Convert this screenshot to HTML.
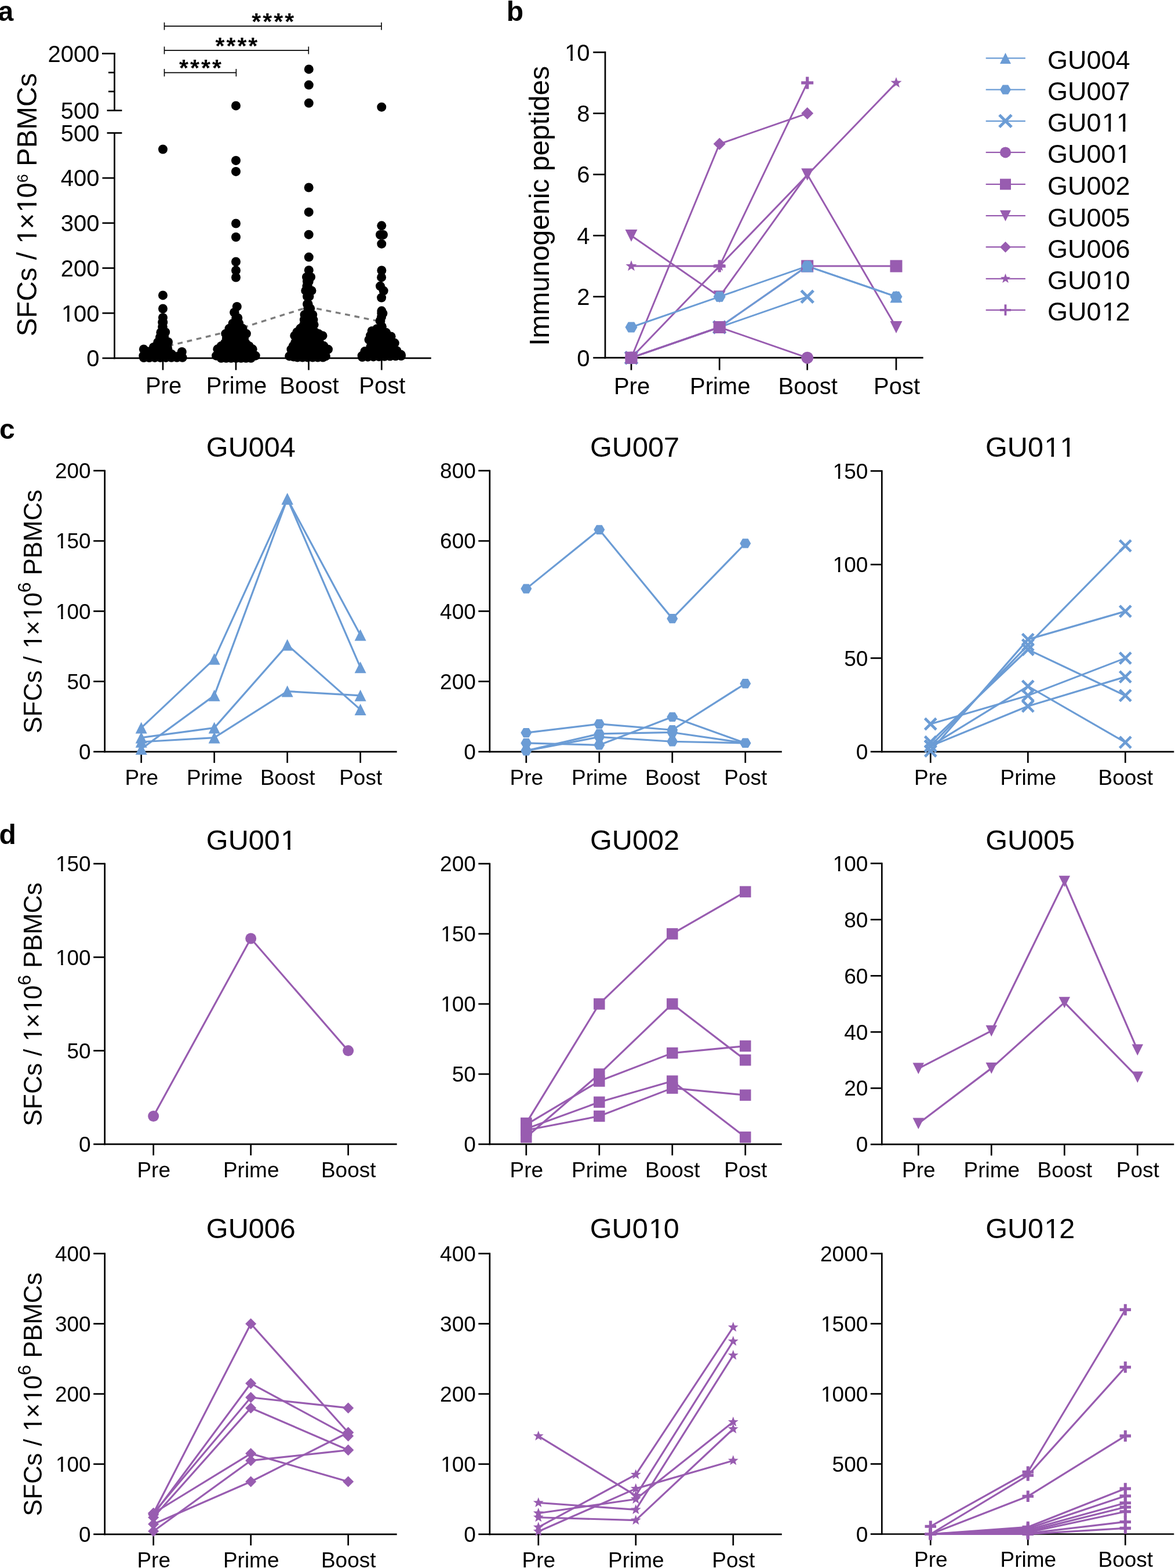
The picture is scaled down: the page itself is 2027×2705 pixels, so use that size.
<!DOCTYPE html>
<html><head><meta charset="utf-8"><title>Figure</title>
<style>
html,body{margin:0;padding:0;background:#fff;}
svg{display:block;}
text{font-family:'Liberation Sans', Arial, Helvetica, sans-serif;fill:#000;font-kerning:none;font-feature-settings:'kern' 0;}
</style></head>
<body>
<svg xmlns="http://www.w3.org/2000/svg" width="2027" height="2705" viewBox="0 0 2027 2705">
<rect width="2027" height="2705" fill="#fff"/>
<text x="-3.5" y="35.8" font-size="48" text-anchor="start" font-weight="bold" >a</text>
<line x1="197.5" y1="229.4" x2="197.5" y2="619.25" stroke="#000" stroke-width="2.7" />
<line x1="197.5" y1="91.05" x2="197.5" y2="190.6" stroke="#000" stroke-width="2.7" />
<line x1="176.5" y1="617.9" x2="197.5" y2="617.9" stroke="#000" stroke-width="2.7" />
<text x="171.5" y="632.2" font-size="40" text-anchor="end" font-weight="normal" >0</text>
<line x1="176.5" y1="540.2" x2="197.5" y2="540.2" stroke="#000" stroke-width="2.7" />
<text x="105.96 127.01 149.25" y="554.5" font-size="40" text-anchor="start" >100</text>
<rect x="107.96" y="550.5" width="7.96" height="5.4" fill="#fff"/><rect x="119.6" y="550.5" width="7.6" height="5.4" fill="#fff"/>
<line x1="176.5" y1="462.5" x2="197.5" y2="462.5" stroke="#000" stroke-width="2.7" />
<text x="171.5" y="476.8" font-size="40" text-anchor="end" font-weight="normal" >200</text>
<line x1="176.5" y1="384.8" x2="197.5" y2="384.8" stroke="#000" stroke-width="2.7" />
<text x="171.5" y="399.1" font-size="40" text-anchor="end" font-weight="normal" >300</text>
<line x1="176.5" y1="307.1" x2="197.5" y2="307.1" stroke="#000" stroke-width="2.7" />
<text x="171.5" y="321.4" font-size="40" text-anchor="end" font-weight="normal" >400</text>
<line x1="184.6" y1="229.4" x2="210.4" y2="229.4" stroke="#000" stroke-width="2.7" />
<text x="171.5" y="243.7" font-size="40" text-anchor="end" font-weight="normal" >500</text>
<line x1="184.6" y1="190.6" x2="210.4" y2="190.6" stroke="#000" stroke-width="2.7" />
<text x="171.5" y="204.9" font-size="40" text-anchor="end" font-weight="normal" >500</text>
<line x1="176" y1="92.4" x2="198.85" y2="92.4" stroke="#000" stroke-width="2.7" />
<text x="171.5" y="106.7" font-size="40" text-anchor="end" font-weight="normal" >2000</text>
<line x1="187" y1="157.87" x2="197.5" y2="157.87" stroke="#000" stroke-width="2.7" />
<line x1="187" y1="125.13" x2="197.5" y2="125.13" stroke="#000" stroke-width="2.7" />
<line x1="196.15" y1="617.9" x2="743.8" y2="617.9" stroke="#000" stroke-width="2.7" />
<line x1="281" y1="617.9" x2="281" y2="638.4" stroke="#000" stroke-width="2.7" />
<text x="282" y="679.4" font-size="40" text-anchor="middle" font-weight="normal" >Pre</text>
<line x1="407" y1="617.9" x2="407" y2="638.4" stroke="#000" stroke-width="2.7" />
<text x="408" y="679.4" font-size="40" text-anchor="middle" font-weight="normal" >Prime</text>
<line x1="532.5" y1="617.9" x2="532.5" y2="638.4" stroke="#000" stroke-width="2.7" />
<text x="533.5" y="679.4" font-size="40" text-anchor="middle" font-weight="normal" >Boost</text>
<line x1="658.3" y1="617.9" x2="658.3" y2="638.4" stroke="#000" stroke-width="2.7" />
<text x="659.3" y="679.4" font-size="40" text-anchor="middle" font-weight="normal" >Post</text>
<g transform="translate(63.3,353.2) rotate(-90)"><text x="-227.13 -195.44 -166.43 -132.13 -108.38 -95.18 -81.98 -67.36 -42.37 -13.2 11.79" y="0" font-size="47.5" text-anchor="start">SFCs / 1×10<tspan font-size="26.5" dy="-15">6</tspan><tspan dy="15"> PBMCs</tspan></text>
<rect x="-64.99" y="-4.75" width="9.45" height="6.41" fill="#fff"/><rect x="-51.16" y="-4.75" width="9.03" height="6.41" fill="#fff"/><rect x="-10.83" y="-4.75" width="9.45" height="6.41" fill="#fff"/><rect x="2.99" y="-4.75" width="9.03" height="6.41" fill="#fff"/></g>
<line x1="283.5" y1="45.2" x2="658" y2="45.2" stroke="#000" stroke-width="1.8" />
<line x1="283.5" y1="38.7" x2="283.5" y2="51.7" stroke="#000" stroke-width="1.6" />
<line x1="658" y1="38.7" x2="658" y2="51.7" stroke="#000" stroke-width="1.6" />
<text x="472.25" y="51" font-size="41" text-anchor="middle" font-weight="bold" letter-spacing="3">****</text>
<line x1="283.5" y1="86.9" x2="532.3" y2="86.9" stroke="#000" stroke-width="1.8" />
<line x1="283.5" y1="80.4" x2="283.5" y2="93.4" stroke="#000" stroke-width="1.6" />
<line x1="532.3" y1="80.4" x2="532.3" y2="93.4" stroke="#000" stroke-width="1.6" />
<text x="409.4" y="92.7" font-size="41" text-anchor="middle" font-weight="bold" letter-spacing="3">****</text>
<line x1="283.5" y1="125.4" x2="407.4" y2="125.4" stroke="#000" stroke-width="1.8" />
<line x1="283.5" y1="118.9" x2="283.5" y2="131.9" stroke="#000" stroke-width="1.6" />
<line x1="407.4" y1="118.9" x2="407.4" y2="131.9" stroke="#000" stroke-width="1.6" />
<text x="346.95" y="131.2" font-size="41" text-anchor="middle" font-weight="bold" letter-spacing="3">****</text>
<polyline points="281,599 407,568.8 532.5,529.5 658.3,555" fill="none" stroke="#7d7d7d" stroke-width="3.4" stroke-dasharray="8.8 7.8" stroke-dashoffset="7"/>
<g fill="#000"><circle cx="281" cy="257.5" r="8"/><circle cx="281" cy="509.4" r="8"/><circle cx="281" cy="532.5" r="8"/><circle cx="407" cy="182.4" r="8"/><circle cx="407" cy="276.9" r="8"/><circle cx="407" cy="295.9" r="8"/><circle cx="407" cy="385.5" r="8"/><circle cx="407" cy="409" r="8"/><circle cx="407" cy="451.5" r="8"/><circle cx="407" cy="466.5" r="8"/><circle cx="407" cy="478.5" r="8"/><circle cx="532.8" cy="119.4" r="8"/><circle cx="532.8" cy="146.6" r="8"/><circle cx="532.8" cy="177.8" r="8"/><circle cx="532.7" cy="323.5" r="8"/><circle cx="532.7" cy="365.9" r="8"/><circle cx="532.7" cy="404.7" r="8"/><circle cx="532.8" cy="443.6" r="8"/><circle cx="658.3" cy="184.7" r="8"/><circle cx="658.3" cy="389.3" r="8"/><circle cx="656" cy="405" r="8"/><circle cx="661" cy="405" r="8"/><circle cx="658.3" cy="420.7" r="8"/><circle cx="658.4" cy="466.5" r="8"/><circle cx="658.1" cy="478.4" r="8"/><circle cx="656" cy="493.6" r="8"/><circle cx="661.7" cy="501.6" r="8"/><circle cx="658.1" cy="513.5" r="8"/><circle cx="251.3" cy="608" r="8"/><circle cx="251.3" cy="612" r="8"/><circle cx="255.3" cy="612" r="8"/><circle cx="259.3" cy="612" r="8"/><circle cx="263.3" cy="612" r="8"/><circle cx="267.3" cy="604" r="8"/><circle cx="267.3" cy="608" r="8"/><circle cx="267.3" cy="612" r="8"/><circle cx="271.3" cy="596" r="8"/><circle cx="271.3" cy="600" r="8"/><circle cx="271.3" cy="604" r="8"/><circle cx="271.3" cy="608" r="8"/><circle cx="271.3" cy="612" r="8"/><circle cx="275.3" cy="592" r="8"/><circle cx="275.3" cy="596" r="8"/><circle cx="275.3" cy="600" r="8"/><circle cx="275.3" cy="604" r="8"/><circle cx="275.3" cy="608" r="8"/><circle cx="275.3" cy="612" r="8"/><circle cx="279.3" cy="580" r="8"/><circle cx="279.3" cy="584" r="8"/><circle cx="279.3" cy="588" r="8"/><circle cx="279.3" cy="592" r="8"/><circle cx="279.3" cy="596" r="8"/><circle cx="279.3" cy="600" r="8"/><circle cx="279.3" cy="604" r="8"/><circle cx="279.3" cy="608" r="8"/><circle cx="279.3" cy="612" r="8"/><circle cx="283.3" cy="588" r="8"/><circle cx="283.3" cy="592" r="8"/><circle cx="283.3" cy="596" r="8"/><circle cx="283.3" cy="600" r="8"/><circle cx="283.3" cy="604" r="8"/><circle cx="283.3" cy="608" r="8"/><circle cx="283.3" cy="612" r="8"/><circle cx="287.3" cy="608" r="8"/><circle cx="287.3" cy="612" r="8"/><circle cx="291.3" cy="612" r="8"/><circle cx="281" cy="548" r="8"/><circle cx="281.3" cy="556" r="8"/><circle cx="280.8" cy="564" r="8"/><circle cx="285.2" cy="573" r="8"/><circle cx="283.2" cy="581" r="8"/><circle cx="290" cy="590" r="8"/><circle cx="288.6" cy="598" r="8"/><circle cx="289.5" cy="603" r="8"/><circle cx="296" cy="611" r="8"/><circle cx="305.8" cy="615" r="8"/><circle cx="313.8" cy="607" r="8"/><circle cx="314.7" cy="616.8" r="8"/><circle cx="305.17" cy="616.83" r="8"/><circle cx="295.64" cy="616.86" r="8"/><circle cx="286.11" cy="616.89" r="8"/><circle cx="276.59" cy="616.91" r="8"/><circle cx="267.06" cy="616.94" r="8"/><circle cx="257.53" cy="616.97" r="8"/><circle cx="248" cy="617" r="8"/><circle cx="247.3" cy="614" r="8"/><circle cx="247.9" cy="602.4" r="8"/><circle cx="256" cy="606.5" r="8"/><circle cx="262" cy="606" r="8"/><circle cx="265" cy="599" r="8"/><circle cx="272.2" cy="590.5" r="8"/><circle cx="276" cy="582" r="8"/><circle cx="277.4" cy="573.5" r="8"/><circle cx="280.2" cy="564" r="8"/><circle cx="280.2" cy="556" r="8"/><circle cx="377.1" cy="608.9" r="8"/><circle cx="381.1" cy="600.9" r="8"/><circle cx="381.1" cy="604.9" r="8"/><circle cx="381.1" cy="608.9" r="8"/><circle cx="381.1" cy="612.9" r="8"/><circle cx="385.1" cy="600.9" r="8"/><circle cx="385.1" cy="604.9" r="8"/><circle cx="385.1" cy="608.9" r="8"/><circle cx="385.1" cy="612.9" r="8"/><circle cx="389.1" cy="596.9" r="8"/><circle cx="389.1" cy="600.9" r="8"/><circle cx="389.1" cy="604.9" r="8"/><circle cx="389.1" cy="608.9" r="8"/><circle cx="389.1" cy="612.9" r="8"/><circle cx="393.1" cy="576.9" r="8"/><circle cx="393.1" cy="580.9" r="8"/><circle cx="393.1" cy="584.9" r="8"/><circle cx="393.1" cy="588.9" r="8"/><circle cx="393.1" cy="592.9" r="8"/><circle cx="393.1" cy="596.9" r="8"/><circle cx="393.1" cy="600.9" r="8"/><circle cx="393.1" cy="604.9" r="8"/><circle cx="393.1" cy="608.9" r="8"/><circle cx="393.1" cy="612.9" r="8"/><circle cx="397.1" cy="568.9" r="8"/><circle cx="397.1" cy="572.9" r="8"/><circle cx="397.1" cy="576.9" r="8"/><circle cx="397.1" cy="580.9" r="8"/><circle cx="397.1" cy="584.9" r="8"/><circle cx="397.1" cy="588.9" r="8"/><circle cx="397.1" cy="592.9" r="8"/><circle cx="397.1" cy="596.9" r="8"/><circle cx="397.1" cy="600.9" r="8"/><circle cx="397.1" cy="604.9" r="8"/><circle cx="397.1" cy="608.9" r="8"/><circle cx="397.1" cy="612.9" r="8"/><circle cx="401.1" cy="564.9" r="8"/><circle cx="401.1" cy="568.9" r="8"/><circle cx="401.1" cy="572.9" r="8"/><circle cx="401.1" cy="576.9" r="8"/><circle cx="401.1" cy="580.9" r="8"/><circle cx="401.1" cy="584.9" r="8"/><circle cx="401.1" cy="588.9" r="8"/><circle cx="401.1" cy="592.9" r="8"/><circle cx="401.1" cy="596.9" r="8"/><circle cx="401.1" cy="600.9" r="8"/><circle cx="401.1" cy="604.9" r="8"/><circle cx="401.1" cy="608.9" r="8"/><circle cx="401.1" cy="612.9" r="8"/><circle cx="405.1" cy="560.9" r="8"/><circle cx="405.1" cy="564.9" r="8"/><circle cx="405.1" cy="568.9" r="8"/><circle cx="405.1" cy="572.9" r="8"/><circle cx="405.1" cy="576.9" r="8"/><circle cx="405.1" cy="580.9" r="8"/><circle cx="405.1" cy="584.9" r="8"/><circle cx="405.1" cy="588.9" r="8"/><circle cx="405.1" cy="592.9" r="8"/><circle cx="405.1" cy="596.9" r="8"/><circle cx="405.1" cy="600.9" r="8"/><circle cx="405.1" cy="604.9" r="8"/><circle cx="405.1" cy="608.9" r="8"/><circle cx="405.1" cy="612.9" r="8"/><circle cx="409.1" cy="556.9" r="8"/><circle cx="409.1" cy="560.9" r="8"/><circle cx="409.1" cy="564.9" r="8"/><circle cx="409.1" cy="568.9" r="8"/><circle cx="409.1" cy="572.9" r="8"/><circle cx="409.1" cy="576.9" r="8"/><circle cx="409.1" cy="580.9" r="8"/><circle cx="409.1" cy="584.9" r="8"/><circle cx="409.1" cy="588.9" r="8"/><circle cx="409.1" cy="592.9" r="8"/><circle cx="409.1" cy="596.9" r="8"/><circle cx="409.1" cy="600.9" r="8"/><circle cx="409.1" cy="604.9" r="8"/><circle cx="409.1" cy="608.9" r="8"/><circle cx="409.1" cy="612.9" r="8"/><circle cx="413.1" cy="564.9" r="8"/><circle cx="413.1" cy="568.9" r="8"/><circle cx="413.1" cy="572.9" r="8"/><circle cx="413.1" cy="576.9" r="8"/><circle cx="413.1" cy="580.9" r="8"/><circle cx="413.1" cy="584.9" r="8"/><circle cx="413.1" cy="588.9" r="8"/><circle cx="413.1" cy="592.9" r="8"/><circle cx="413.1" cy="596.9" r="8"/><circle cx="413.1" cy="600.9" r="8"/><circle cx="413.1" cy="604.9" r="8"/><circle cx="413.1" cy="608.9" r="8"/><circle cx="413.1" cy="612.9" r="8"/><circle cx="417.1" cy="572.9" r="8"/><circle cx="417.1" cy="576.9" r="8"/><circle cx="417.1" cy="580.9" r="8"/><circle cx="417.1" cy="584.9" r="8"/><circle cx="417.1" cy="588.9" r="8"/><circle cx="417.1" cy="592.9" r="8"/><circle cx="417.1" cy="596.9" r="8"/><circle cx="417.1" cy="600.9" r="8"/><circle cx="417.1" cy="604.9" r="8"/><circle cx="417.1" cy="608.9" r="8"/><circle cx="417.1" cy="612.9" r="8"/><circle cx="421.1" cy="576.9" r="8"/><circle cx="421.1" cy="592.9" r="8"/><circle cx="421.1" cy="596.9" r="8"/><circle cx="421.1" cy="600.9" r="8"/><circle cx="421.1" cy="604.9" r="8"/><circle cx="421.1" cy="608.9" r="8"/><circle cx="421.1" cy="612.9" r="8"/><circle cx="425.1" cy="596.9" r="8"/><circle cx="425.1" cy="600.9" r="8"/><circle cx="425.1" cy="604.9" r="8"/><circle cx="425.1" cy="608.9" r="8"/><circle cx="425.1" cy="612.9" r="8"/><circle cx="429.1" cy="600.9" r="8"/><circle cx="429.1" cy="604.9" r="8"/><circle cx="429.1" cy="608.9" r="8"/><circle cx="429.1" cy="612.9" r="8"/><circle cx="433.1" cy="604.9" r="8"/><circle cx="433.1" cy="608.9" r="8"/><circle cx="433.1" cy="612.9" r="8"/><circle cx="408.8" cy="528.9" r="8"/><circle cx="404.6" cy="539" r="8"/><circle cx="410.3" cy="548.5" r="8"/><circle cx="412.2" cy="558" r="8"/><circle cx="418.55" cy="566.85" r="8"/><circle cx="424.9" cy="575.7" r="8"/><circle cx="421.1" cy="583.3" r="8"/><circle cx="423.6" cy="591.6" r="8"/><circle cx="429.65" cy="596.95" r="8"/><circle cx="435.7" cy="602.3" r="8"/><circle cx="440.7" cy="613.7" r="8"/><circle cx="432.9" cy="617.8" r="8"/><circle cx="424.35" cy="617.8" r="8"/><circle cx="415.8" cy="617.8" r="8"/><circle cx="407.25" cy="617.8" r="8"/><circle cx="398.7" cy="617.8" r="8"/><circle cx="390.15" cy="617.8" r="8"/><circle cx="381.6" cy="617.8" r="8"/><circle cx="373.1" cy="613.7" r="8"/><circle cx="375.3" cy="602.3" r="8"/><circle cx="381.65" cy="596.95" r="8"/><circle cx="388" cy="591.6" r="8"/><circle cx="390.9" cy="583.3" r="8"/><circle cx="389.3" cy="575.7" r="8"/><circle cx="395.45" cy="566.85" r="8"/><circle cx="401.6" cy="558" r="8"/><circle cx="407.3" cy="548.5" r="8"/><circle cx="404.2" cy="539" r="8"/><circle cx="503.2" cy="610.2" r="8"/><circle cx="507.2" cy="602.2" r="8"/><circle cx="507.2" cy="606.2" r="8"/><circle cx="507.2" cy="610.2" r="8"/><circle cx="511.2" cy="582.2" r="8"/><circle cx="511.2" cy="594.2" r="8"/><circle cx="511.2" cy="598.2" r="8"/><circle cx="511.2" cy="602.2" r="8"/><circle cx="511.2" cy="606.2" r="8"/><circle cx="511.2" cy="610.2" r="8"/><circle cx="515.2" cy="574.2" r="8"/><circle cx="515.2" cy="578.2" r="8"/><circle cx="515.2" cy="582.2" r="8"/><circle cx="515.2" cy="586.2" r="8"/><circle cx="515.2" cy="590.2" r="8"/><circle cx="515.2" cy="594.2" r="8"/><circle cx="515.2" cy="598.2" r="8"/><circle cx="515.2" cy="602.2" r="8"/><circle cx="515.2" cy="606.2" r="8"/><circle cx="515.2" cy="610.2" r="8"/><circle cx="519.2" cy="570.2" r="8"/><circle cx="519.2" cy="574.2" r="8"/><circle cx="519.2" cy="578.2" r="8"/><circle cx="519.2" cy="582.2" r="8"/><circle cx="519.2" cy="586.2" r="8"/><circle cx="519.2" cy="590.2" r="8"/><circle cx="519.2" cy="594.2" r="8"/><circle cx="519.2" cy="598.2" r="8"/><circle cx="519.2" cy="602.2" r="8"/><circle cx="519.2" cy="606.2" r="8"/><circle cx="519.2" cy="610.2" r="8"/><circle cx="523.2" cy="566.2" r="8"/><circle cx="523.2" cy="570.2" r="8"/><circle cx="523.2" cy="574.2" r="8"/><circle cx="523.2" cy="578.2" r="8"/><circle cx="523.2" cy="582.2" r="8"/><circle cx="523.2" cy="586.2" r="8"/><circle cx="523.2" cy="590.2" r="8"/><circle cx="523.2" cy="594.2" r="8"/><circle cx="523.2" cy="598.2" r="8"/><circle cx="523.2" cy="602.2" r="8"/><circle cx="523.2" cy="606.2" r="8"/><circle cx="523.2" cy="610.2" r="8"/><circle cx="527.2" cy="554.2" r="8"/><circle cx="527.2" cy="558.2" r="8"/><circle cx="527.2" cy="562.2" r="8"/><circle cx="527.2" cy="566.2" r="8"/><circle cx="527.2" cy="570.2" r="8"/><circle cx="527.2" cy="574.2" r="8"/><circle cx="527.2" cy="578.2" r="8"/><circle cx="527.2" cy="582.2" r="8"/><circle cx="527.2" cy="586.2" r="8"/><circle cx="527.2" cy="590.2" r="8"/><circle cx="527.2" cy="594.2" r="8"/><circle cx="527.2" cy="598.2" r="8"/><circle cx="527.2" cy="602.2" r="8"/><circle cx="527.2" cy="606.2" r="8"/><circle cx="527.2" cy="610.2" r="8"/><circle cx="531.2" cy="502.2" r="8"/><circle cx="531.2" cy="506.2" r="8"/><circle cx="531.2" cy="538.2" r="8"/><circle cx="531.2" cy="542.2" r="8"/><circle cx="531.2" cy="546.2" r="8"/><circle cx="531.2" cy="550.2" r="8"/><circle cx="531.2" cy="554.2" r="8"/><circle cx="531.2" cy="558.2" r="8"/><circle cx="531.2" cy="562.2" r="8"/><circle cx="531.2" cy="566.2" r="8"/><circle cx="531.2" cy="570.2" r="8"/><circle cx="531.2" cy="574.2" r="8"/><circle cx="531.2" cy="578.2" r="8"/><circle cx="531.2" cy="582.2" r="8"/><circle cx="531.2" cy="586.2" r="8"/><circle cx="531.2" cy="590.2" r="8"/><circle cx="531.2" cy="594.2" r="8"/><circle cx="531.2" cy="598.2" r="8"/><circle cx="531.2" cy="602.2" r="8"/><circle cx="531.2" cy="606.2" r="8"/><circle cx="531.2" cy="610.2" r="8"/><circle cx="535.2" cy="542.2" r="8"/><circle cx="535.2" cy="546.2" r="8"/><circle cx="535.2" cy="550.2" r="8"/><circle cx="535.2" cy="554.2" r="8"/><circle cx="535.2" cy="558.2" r="8"/><circle cx="535.2" cy="562.2" r="8"/><circle cx="535.2" cy="566.2" r="8"/><circle cx="535.2" cy="570.2" r="8"/><circle cx="535.2" cy="574.2" r="8"/><circle cx="535.2" cy="578.2" r="8"/><circle cx="535.2" cy="582.2" r="8"/><circle cx="535.2" cy="586.2" r="8"/><circle cx="535.2" cy="590.2" r="8"/><circle cx="535.2" cy="594.2" r="8"/><circle cx="535.2" cy="598.2" r="8"/><circle cx="535.2" cy="602.2" r="8"/><circle cx="535.2" cy="606.2" r="8"/><circle cx="535.2" cy="610.2" r="8"/><circle cx="539.2" cy="562.2" r="8"/><circle cx="539.2" cy="566.2" r="8"/><circle cx="539.2" cy="570.2" r="8"/><circle cx="539.2" cy="574.2" r="8"/><circle cx="539.2" cy="578.2" r="8"/><circle cx="539.2" cy="582.2" r="8"/><circle cx="539.2" cy="586.2" r="8"/><circle cx="539.2" cy="590.2" r="8"/><circle cx="539.2" cy="594.2" r="8"/><circle cx="539.2" cy="598.2" r="8"/><circle cx="539.2" cy="602.2" r="8"/><circle cx="539.2" cy="606.2" r="8"/><circle cx="539.2" cy="610.2" r="8"/><circle cx="543.2" cy="578.2" r="8"/><circle cx="543.2" cy="582.2" r="8"/><circle cx="543.2" cy="586.2" r="8"/><circle cx="543.2" cy="590.2" r="8"/><circle cx="543.2" cy="594.2" r="8"/><circle cx="543.2" cy="598.2" r="8"/><circle cx="543.2" cy="602.2" r="8"/><circle cx="543.2" cy="606.2" r="8"/><circle cx="543.2" cy="610.2" r="8"/><circle cx="547.2" cy="578.2" r="8"/><circle cx="547.2" cy="582.2" r="8"/><circle cx="547.2" cy="586.2" r="8"/><circle cx="547.2" cy="590.2" r="8"/><circle cx="547.2" cy="594.2" r="8"/><circle cx="547.2" cy="598.2" r="8"/><circle cx="547.2" cy="602.2" r="8"/><circle cx="547.2" cy="606.2" r="8"/><circle cx="547.2" cy="610.2" r="8"/><circle cx="551.2" cy="582.2" r="8"/><circle cx="551.2" cy="598.2" r="8"/><circle cx="551.2" cy="602.2" r="8"/><circle cx="551.2" cy="606.2" r="8"/><circle cx="551.2" cy="610.2" r="8"/><circle cx="555.2" cy="598.2" r="8"/><circle cx="555.2" cy="602.2" r="8"/><circle cx="555.2" cy="606.2" r="8"/><circle cx="555.2" cy="610.2" r="8"/><circle cx="559.2" cy="602.2" r="8"/><circle cx="559.2" cy="606.2" r="8"/><circle cx="559.2" cy="610.2" r="8"/><circle cx="532.8" cy="466.2" r="8"/><circle cx="536.1" cy="477.9" r="8"/><circle cx="532.75" cy="485.6" r="8"/><circle cx="529.4" cy="493.3" r="8"/><circle cx="537.5" cy="501.4" r="8"/><circle cx="533.4" cy="511.4" r="8"/><circle cx="531.6" cy="524.5" r="8"/><circle cx="535.2" cy="532.2" r="8"/><circle cx="539.3" cy="543" r="8"/><circle cx="540.45" cy="551.6" r="8"/><circle cx="541.6" cy="560.2" r="8"/><circle cx="543.4" cy="572.9" r="8"/><circle cx="549.95" cy="576.05" r="8"/><circle cx="556.5" cy="579.2" r="8"/><circle cx="551.1" cy="591" r="8"/><circle cx="558.55" cy="596.85" r="8"/><circle cx="566" cy="602.7" r="8"/><circle cx="561.9" cy="614.4" r="8"/><circle cx="557" cy="616.5" r="8"/><circle cx="548.2" cy="616.5" r="8"/><circle cx="539.4" cy="616.5" r="8"/><circle cx="530.6" cy="616.5" r="8"/><circle cx="521.8" cy="616.5" r="8"/><circle cx="513" cy="616.5" r="8"/><circle cx="506.1" cy="615.45" r="8"/><circle cx="499.2" cy="614.4" r="8"/><circle cx="502.4" cy="602.7" r="8"/><circle cx="505.8" cy="596.85" r="8"/><circle cx="509.2" cy="591" r="8"/><circle cx="508.3" cy="579.2" r="8"/><circle cx="512.4" cy="572.9" r="8"/><circle cx="518.25" cy="566.55" r="8"/><circle cx="524.1" cy="560.2" r="8"/><circle cx="524.8" cy="551.6" r="8"/><circle cx="525.5" cy="543" r="8"/><circle cx="531.3" cy="532.2" r="8"/><circle cx="530" cy="524.5" r="8"/><circle cx="530" cy="511.4" r="8"/><circle cx="527.3" cy="501.4" r="8"/><circle cx="530.9" cy="493.3" r="8"/><circle cx="529.95" cy="485.6" r="8"/><circle cx="529" cy="477.9" r="8"/><circle cx="628.6" cy="612.3" r="8"/><circle cx="632.6" cy="608.3" r="8"/><circle cx="632.6" cy="612.3" r="8"/><circle cx="636.6" cy="604.3" r="8"/><circle cx="636.6" cy="608.3" r="8"/><circle cx="636.6" cy="612.3" r="8"/><circle cx="640.6" cy="584.3" r="8"/><circle cx="640.6" cy="588.3" r="8"/><circle cx="640.6" cy="592.3" r="8"/><circle cx="640.6" cy="604.3" r="8"/><circle cx="640.6" cy="608.3" r="8"/><circle cx="640.6" cy="612.3" r="8"/><circle cx="644.6" cy="576.3" r="8"/><circle cx="644.6" cy="580.3" r="8"/><circle cx="644.6" cy="584.3" r="8"/><circle cx="644.6" cy="588.3" r="8"/><circle cx="644.6" cy="592.3" r="8"/><circle cx="644.6" cy="596.3" r="8"/><circle cx="644.6" cy="600.3" r="8"/><circle cx="644.6" cy="604.3" r="8"/><circle cx="644.6" cy="608.3" r="8"/><circle cx="644.6" cy="612.3" r="8"/><circle cx="648.6" cy="572.3" r="8"/><circle cx="648.6" cy="576.3" r="8"/><circle cx="648.6" cy="580.3" r="8"/><circle cx="648.6" cy="584.3" r="8"/><circle cx="648.6" cy="588.3" r="8"/><circle cx="648.6" cy="592.3" r="8"/><circle cx="648.6" cy="596.3" r="8"/><circle cx="648.6" cy="600.3" r="8"/><circle cx="648.6" cy="604.3" r="8"/><circle cx="648.6" cy="608.3" r="8"/><circle cx="648.6" cy="612.3" r="8"/><circle cx="652.6" cy="572.3" r="8"/><circle cx="652.6" cy="576.3" r="8"/><circle cx="652.6" cy="580.3" r="8"/><circle cx="652.6" cy="584.3" r="8"/><circle cx="652.6" cy="588.3" r="8"/><circle cx="652.6" cy="592.3" r="8"/><circle cx="652.6" cy="596.3" r="8"/><circle cx="652.6" cy="600.3" r="8"/><circle cx="652.6" cy="604.3" r="8"/><circle cx="652.6" cy="608.3" r="8"/><circle cx="652.6" cy="612.3" r="8"/><circle cx="656.6" cy="568.3" r="8"/><circle cx="656.6" cy="572.3" r="8"/><circle cx="656.6" cy="576.3" r="8"/><circle cx="656.6" cy="580.3" r="8"/><circle cx="656.6" cy="584.3" r="8"/><circle cx="656.6" cy="588.3" r="8"/><circle cx="656.6" cy="592.3" r="8"/><circle cx="656.6" cy="596.3" r="8"/><circle cx="656.6" cy="600.3" r="8"/><circle cx="656.6" cy="604.3" r="8"/><circle cx="656.6" cy="608.3" r="8"/><circle cx="656.6" cy="612.3" r="8"/><circle cx="660.6" cy="576.3" r="8"/><circle cx="660.6" cy="580.3" r="8"/><circle cx="660.6" cy="584.3" r="8"/><circle cx="660.6" cy="588.3" r="8"/><circle cx="660.6" cy="592.3" r="8"/><circle cx="660.6" cy="596.3" r="8"/><circle cx="660.6" cy="600.3" r="8"/><circle cx="660.6" cy="604.3" r="8"/><circle cx="660.6" cy="608.3" r="8"/><circle cx="660.6" cy="612.3" r="8"/><circle cx="664.6" cy="576.3" r="8"/><circle cx="664.6" cy="580.3" r="8"/><circle cx="664.6" cy="584.3" r="8"/><circle cx="664.6" cy="588.3" r="8"/><circle cx="664.6" cy="592.3" r="8"/><circle cx="664.6" cy="596.3" r="8"/><circle cx="664.6" cy="600.3" r="8"/><circle cx="664.6" cy="604.3" r="8"/><circle cx="664.6" cy="608.3" r="8"/><circle cx="664.6" cy="612.3" r="8"/><circle cx="668.6" cy="580.3" r="8"/><circle cx="668.6" cy="584.3" r="8"/><circle cx="668.6" cy="588.3" r="8"/><circle cx="668.6" cy="592.3" r="8"/><circle cx="668.6" cy="596.3" r="8"/><circle cx="668.6" cy="600.3" r="8"/><circle cx="668.6" cy="604.3" r="8"/><circle cx="668.6" cy="608.3" r="8"/><circle cx="672.6" cy="584.3" r="8"/><circle cx="672.6" cy="588.3" r="8"/><circle cx="672.6" cy="592.3" r="8"/><circle cx="672.6" cy="596.3" r="8"/><circle cx="672.6" cy="600.3" r="8"/><circle cx="672.6" cy="604.3" r="8"/><circle cx="672.6" cy="608.3" r="8"/><circle cx="676.6" cy="592.3" r="8"/><circle cx="676.6" cy="604.3" r="8"/><circle cx="676.6" cy="608.3" r="8"/><circle cx="680.6" cy="608.3" r="8"/><circle cx="658.4" cy="536.3" r="8"/><circle cx="660.4" cy="540.6" r="8"/><circle cx="658" cy="547" r="8"/><circle cx="655.6" cy="553.4" r="8"/><circle cx="658.5" cy="563.4" r="8"/><circle cx="660.4" cy="571" r="8"/><circle cx="666.1" cy="573.8" r="8"/><circle cx="674.6" cy="580.4" r="8"/><circle cx="680.8" cy="591.8" r="8"/><circle cx="677.4" cy="598.5" r="8"/><circle cx="684.55" cy="605.15" r="8"/><circle cx="691.7" cy="611.8" r="8"/><circle cx="692" cy="614" r="8"/><circle cx="682.43" cy="614.29" r="8"/><circle cx="672.86" cy="614.57" r="8"/><circle cx="663.29" cy="614.86" r="8"/><circle cx="653.71" cy="615.14" r="8"/><circle cx="644.14" cy="615.43" r="8"/><circle cx="634.57" cy="615.71" r="8"/><circle cx="625" cy="616" r="8"/><circle cx="624.6" cy="613.7" r="8"/><circle cx="629.4" cy="606.1" r="8"/><circle cx="639.3" cy="598.5" r="8"/><circle cx="636.5" cy="586.1" r="8"/><circle cx="639.1" cy="578.55" r="8"/><circle cx="641.7" cy="571" r="8"/><circle cx="650.25" cy="567.2" r="8"/><circle cx="658.8" cy="563.4" r="8"/><circle cx="656.4" cy="553.4" r="8"/><circle cx="658.3" cy="540.6" r="8"/></g>
<text x="873.7" y="35.7" font-size="48" text-anchor="start" font-weight="bold" >b</text>
<line x1="1044" y1="88.85" x2="1044" y2="618.55" stroke="#000" stroke-width="2.7" />
<line x1="1023.2" y1="617.2" x2="1044" y2="617.2" stroke="#000" stroke-width="2.7" />
<text x="1017.5" y="631.5" font-size="40" text-anchor="end" font-weight="normal" >0</text>
<line x1="1023.2" y1="511.8" x2="1044" y2="511.8" stroke="#000" stroke-width="2.7" />
<text x="1017.5" y="526.1" font-size="40" text-anchor="end" font-weight="normal" >2</text>
<line x1="1023.2" y1="406.4" x2="1044" y2="406.4" stroke="#000" stroke-width="2.7" />
<text x="1017.5" y="420.7" font-size="40" text-anchor="end" font-weight="normal" >4</text>
<line x1="1023.2" y1="301" x2="1044" y2="301" stroke="#000" stroke-width="2.7" />
<text x="1017.5" y="315.3" font-size="40" text-anchor="end" font-weight="normal" >6</text>
<line x1="1023.2" y1="195.6" x2="1044" y2="195.6" stroke="#000" stroke-width="2.7" />
<text x="1017.5" y="209.9" font-size="40" text-anchor="end" font-weight="normal" >8</text>
<line x1="1023.2" y1="90.2" x2="1044" y2="90.2" stroke="#000" stroke-width="2.7" />
<text x="974.21 995.25" y="104.5" font-size="40" text-anchor="start" >10</text>
<rect x="976.21" y="100.5" width="7.96" height="5.4" fill="#fff"/><rect x="987.85" y="100.5" width="7.6" height="5.4" fill="#fff"/>
<line x1="1042.65" y1="617.2" x2="1592.7" y2="617.2" stroke="#000" stroke-width="2.7" />
<line x1="1089" y1="617.2" x2="1089" y2="638.5" stroke="#000" stroke-width="2.7" />
<text x="1090" y="679.7" font-size="40" text-anchor="middle" font-weight="normal" >Pre</text>
<line x1="1241.2" y1="617.2" x2="1241.2" y2="638.5" stroke="#000" stroke-width="2.7" />
<text x="1242.2" y="679.7" font-size="40" text-anchor="middle" font-weight="normal" >Prime</text>
<line x1="1392.7" y1="617.2" x2="1392.7" y2="638.5" stroke="#000" stroke-width="2.7" />
<text x="1393.7" y="679.7" font-size="40" text-anchor="middle" font-weight="normal" >Boost</text>
<line x1="1546" y1="617.2" x2="1546" y2="638.5" stroke="#000" stroke-width="2.7" />
<text x="1547" y="679.7" font-size="40" text-anchor="middle" font-weight="normal" >Post</text>
<text transform="translate(947.4,355.3) rotate(-90)" font-size="48" text-anchor="middle">Immunogenic peptides</text>
<polyline points="1089,617.2 1241.2,564.5 1392.7,511.8" fill="none" stroke="#6b9cd5" stroke-width="3" stroke-linejoin="round"/>
<polyline points="1089,617.2 1241.2,564.5" fill="none" stroke="#6b9cd5" stroke-width="3" stroke-linejoin="round"/>
<polyline points="1089,617.2 1241.2,564.5 1392.7,617.2" fill="none" stroke="#985cb0" stroke-width="3" stroke-linejoin="round"/>
<polyline points="1089,617.2 1241.2,564.5 1392.7,459.1 1546,459.1" fill="none" stroke="#985cb0" stroke-width="3" stroke-linejoin="round"/>
<polyline points="1089,406.4 1241.2,511.8 1392.7,301 1546,564.5" fill="none" stroke="#985cb0" stroke-width="3" stroke-linejoin="round"/>
<polyline points="1089,617.2 1241.2,248.3 1392.7,195.6" fill="none" stroke="#985cb0" stroke-width="3" stroke-linejoin="round"/>
<polyline points="1089,459.1 1241.2,459.1 1546,142.9" fill="none" stroke="#985cb0" stroke-width="3" stroke-linejoin="round"/>
<polyline points="1089,617.2 1241.2,459.1 1392.7,142.9" fill="none" stroke="#985cb0" stroke-width="3" stroke-linejoin="round"/>
<polyline points="1241.2,564.5 1392.7,459.1 1546,511.8" fill="none" stroke="#6b9cd5" stroke-width="3" stroke-linejoin="round"/>
<polyline points="1089,564.5 1241.2,511.8 1392.7,459.1 1546,511.8" fill="none" stroke="#6b9cd5" stroke-width="3" stroke-linejoin="round"/>
<path d="M1078.5,606.7L1099.5,627.7M1099.5,606.7L1078.5,627.7" stroke="#6b9cd5" stroke-width="5.04"/>
<path d="M1230.7,554L1251.7,575M1251.7,554L1230.7,575" stroke="#6b9cd5" stroke-width="5.04"/>
<path d="M1382.2,501.3L1403.2,522.3M1403.2,501.3L1382.2,522.3" stroke="#6b9cd5" stroke-width="5.04"/>
<circle cx="1089" cy="617.2" r="10.5" fill="#985cb0"/>
<circle cx="1241.2" cy="564.5" r="10.5" fill="#985cb0"/>
<circle cx="1392.7" cy="617.2" r="10.5" fill="#985cb0"/>
<polygon points="1078.5,395.9 1099.5,395.9 1089,416.9" fill="#985cb0"/>
<polygon points="1230.7,501.3 1251.7,501.3 1241.2,522.3" fill="#985cb0"/>
<polygon points="1382.2,290.5 1403.2,290.5 1392.7,311.5" fill="#985cb0"/>
<polygon points="1535.5,554 1556.5,554 1546,575" fill="#985cb0"/>
<polygon points="1089,606.7 1099.5,617.2 1089,627.7 1078.5,617.2" fill="#985cb0"/>
<polygon points="1241.2,237.8 1251.7,248.3 1241.2,258.8 1230.7,248.3" fill="#985cb0"/>
<polygon points="1392.7,185.1 1403.2,195.6 1392.7,206.1 1382.2,195.6" fill="#985cb0"/>
<polygon points="1089,449.1 1091.47,455.7 1098.51,456.01 1092.99,460.4 1094.88,467.19 1089,463.3 1083.12,467.19 1085.01,460.4 1079.49,456.01 1086.53,455.7" fill="#985cb0"/>
<polygon points="1241.2,449.1 1243.67,455.7 1250.71,456.01 1245.19,460.4 1247.08,467.19 1241.2,463.3 1235.32,467.19 1237.21,460.4 1231.69,456.01 1238.73,455.7" fill="#985cb0"/>
<polygon points="1546,132.9 1548.47,139.5 1555.51,139.81 1549.99,144.2 1551.88,150.99 1546,147.1 1540.12,150.99 1542.01,144.2 1536.49,139.81 1543.53,139.5" fill="#985cb0"/>
<path d="M1078.5,617.2L1099.5,617.2M1089,606.7L1089,627.7" stroke="#985cb0" stroke-width="5.25"/>
<path d="M1230.7,459.1L1251.7,459.1M1241.2,448.6L1241.2,469.6" stroke="#985cb0" stroke-width="5.25"/>
<path d="M1382.2,142.9L1403.2,142.9M1392.7,132.4L1392.7,153.4" stroke="#985cb0" stroke-width="5.25"/>
<polygon points="1089,606.7 1099.5,627.7 1078.5,627.7" fill="#6b9cd5"/>
<polygon points="1241.2,554 1251.7,575 1230.7,575" fill="#6b9cd5"/>
<rect x="1078.5" y="606.7" width="21" height="21" fill="#985cb0"/>
<rect x="1230.7" y="554" width="21" height="21" fill="#985cb0"/>
<rect x="1382.2" y="448.6" width="21" height="21" fill="#985cb0"/>
<rect x="1535.5" y="448.6" width="21" height="21" fill="#985cb0"/>
<polygon points="1078.5,564.5 1083.75,555.47 1094.25,555.47 1099.5,564.5 1094.25,573.53 1083.75,573.53" fill="#6b9cd5"/>
<polygon points="1230.7,511.8 1235.95,502.77 1246.45,502.77 1251.7,511.8 1246.45,520.83 1235.95,520.83" fill="#6b9cd5"/>
<polygon points="1382.2,459.1 1387.45,450.07 1397.95,450.07 1403.2,459.1 1397.95,468.13 1387.45,468.13" fill="#6b9cd5"/>
<polygon points="1535.5,511.8 1540.75,502.77 1551.25,502.77 1556.5,511.8 1551.25,520.83 1540.75,520.83" fill="#6b9cd5"/>
<polygon points="1392.7,448.6 1403.2,469.6 1382.2,469.6" fill="#6b9cd5"/>
<polygon points="1546,501.3 1556.5,522.3 1535.5,522.3" fill="#6b9cd5"/>
<line x1="1700.7" y1="100.4" x2="1768.9" y2="100.4" stroke="#6b9cd5" stroke-width="2.2" />
<polygon points="1734.5,90.9 1744,109.9 1725,109.9" fill="#6b9cd5"/>
<text x="1807" y="118.7" font-size="45" text-anchor="start" font-weight="normal" >GU004</text>
<line x1="1700.7" y1="154.7" x2="1768.9" y2="154.7" stroke="#6b9cd5" stroke-width="2.2" />
<polygon points="1725,154.7 1729.75,146.53 1739.25,146.53 1744,154.7 1739.25,162.87 1729.75,162.87" fill="#6b9cd5"/>
<text x="1807" y="173" font-size="45" text-anchor="start" font-weight="normal" >GU007</text>
<line x1="1700.7" y1="208.8" x2="1768.9" y2="208.8" stroke="#6b9cd5" stroke-width="2.2" />
<path d="M1724,198.3L1745,219.3M1745,198.3L1724,219.3" stroke="#6b9cd5" stroke-width="5.04"/>
<text x="1807 1842 1874.5 1900.88 1925.9" y="227.1" font-size="45" text-anchor="start" >GU011</text>
<rect x="1903.13" y="222.6" width="8.96" height="6.08" fill="#fff"/><rect x="1916.22" y="222.6" width="8.55" height="6.08" fill="#fff"/><rect x="1928.15" y="222.6" width="8.96" height="6.08" fill="#fff"/><rect x="1941.25" y="222.6" width="8.55" height="6.08" fill="#fff"/>
<line x1="1700.7" y1="262.9" x2="1768.9" y2="262.9" stroke="#985cb0" stroke-width="2.2" />
<circle cx="1734.5" cy="262.9" r="9.5" fill="#985cb0"/>
<text x="1807 1842 1874.5 1899.53 1925.9" y="281.2" font-size="45" text-anchor="start" >GU001</text>
<rect x="1928.15" y="276.7" width="8.96" height="6.08" fill="#fff"/><rect x="1941.25" y="276.7" width="8.55" height="6.08" fill="#fff"/>
<line x1="1700.7" y1="317.9" x2="1768.9" y2="317.9" stroke="#985cb0" stroke-width="2.2" />
<rect x="1725" y="308.4" width="19" height="19" fill="#985cb0"/>
<text x="1807" y="336.2" font-size="45" text-anchor="start" font-weight="normal" >GU002</text>
<line x1="1700.7" y1="372.2" x2="1768.9" y2="372.2" stroke="#985cb0" stroke-width="2.2" />
<polygon points="1725,362.7 1744,362.7 1734.5,381.7" fill="#985cb0"/>
<text x="1807" y="390.5" font-size="45" text-anchor="start" font-weight="normal" >GU005</text>
<line x1="1700.7" y1="426.2" x2="1768.9" y2="426.2" stroke="#985cb0" stroke-width="2.2" />
<polygon points="1734.5,416.7 1744,426.2 1734.5,435.7 1725,426.2" fill="#985cb0"/>
<text x="1807" y="444.5" font-size="45" text-anchor="start" font-weight="normal" >GU006</text>
<line x1="1700.7" y1="480.8" x2="1768.9" y2="480.8" stroke="#985cb0" stroke-width="2.2" />
<polygon points="1734.5,471.8 1736.72,477.74 1743.06,478.02 1738.09,481.97 1739.79,488.08 1734.5,484.58 1729.21,488.08 1730.91,481.97 1725.94,478.02 1732.28,477.74" fill="#985cb0"/>
<text x="1807 1842 1874.5 1900.88 1924.55" y="499.1" font-size="45" text-anchor="start" >GU010</text>
<rect x="1903.13" y="494.6" width="8.96" height="6.08" fill="#fff"/><rect x="1916.22" y="494.6" width="8.55" height="6.08" fill="#fff"/>
<line x1="1700.7" y1="534.8" x2="1768.9" y2="534.8" stroke="#985cb0" stroke-width="2.2" />
<path d="M1725,534.8L1744,534.8M1734.5,525.3L1734.5,544.3" stroke="#985cb0" stroke-width="3.8"/>
<text x="1807 1842 1874.5 1900.88 1924.55" y="553.1" font-size="45" text-anchor="start" >GU012</text>
<rect x="1903.13" y="548.6" width="8.96" height="6.08" fill="#fff"/><rect x="1916.22" y="548.6" width="8.55" height="6.08" fill="#fff"/>
<text x="-1" y="756.8" font-size="48" text-anchor="start" font-weight="bold" >c</text>
<text x="-1.5" y="1455.6" font-size="48" text-anchor="start" font-weight="bold" >d</text>
<line x1="180.7" y1="810.65" x2="180.7" y2="1298.15" stroke="#000" stroke-width="2.7" />
<line x1="161.2" y1="1296.8" x2="180.7" y2="1296.8" stroke="#000" stroke-width="2.7" />
<text x="156.7" y="1310" font-size="37" text-anchor="end" font-weight="normal" >0</text>
<line x1="161.2" y1="1175.6" x2="180.7" y2="1175.6" stroke="#000" stroke-width="2.7" />
<text x="156.7" y="1188.8" font-size="37" text-anchor="end" font-weight="normal" >50</text>
<line x1="161.2" y1="1054.4" x2="180.7" y2="1054.4" stroke="#000" stroke-width="2.7" />
<text x="96.08 115.54 136.12" y="1067.6" font-size="37" text-anchor="start" >100</text>
<rect x="97.93" y="1063.9" width="7.36" height="5" fill="#fff"/><rect x="108.69" y="1063.9" width="7.03" height="5" fill="#fff"/>
<line x1="161.2" y1="933.2" x2="180.7" y2="933.2" stroke="#000" stroke-width="2.7" />
<text x="96.08 115.54 136.12" y="946.4" font-size="37" text-anchor="start" >150</text>
<rect x="97.93" y="942.7" width="7.36" height="5" fill="#fff"/><rect x="108.69" y="942.7" width="7.03" height="5" fill="#fff"/>
<line x1="161.2" y1="812" x2="180.7" y2="812" stroke="#000" stroke-width="2.7" />
<text x="156.7" y="825.2" font-size="37" text-anchor="end" font-weight="normal" >200</text>
<line x1="179.35" y1="1296.8" x2="684.7" y2="1296.8" stroke="#000" stroke-width="2.7" />
<line x1="243.7" y1="1296.8" x2="243.7" y2="1316.1" stroke="#000" stroke-width="2.7" />
<text x="244.2" y="1353.6" font-size="37" text-anchor="middle" font-weight="normal" >Pre</text>
<line x1="369.7" y1="1296.8" x2="369.7" y2="1316.1" stroke="#000" stroke-width="2.7" />
<text x="370.2" y="1353.6" font-size="37" text-anchor="middle" font-weight="normal" >Prime</text>
<line x1="495.7" y1="1296.8" x2="495.7" y2="1316.1" stroke="#000" stroke-width="2.7" />
<text x="496.2" y="1353.6" font-size="37" text-anchor="middle" font-weight="normal" >Boost</text>
<line x1="621.7" y1="1296.8" x2="621.7" y2="1316.1" stroke="#000" stroke-width="2.7" />
<text x="622.2" y="1353.6" font-size="37" text-anchor="middle" font-weight="normal" >Post</text>
<text x="355.87" y="787.6" font-size="48.6" text-anchor="start" font-weight="normal" >GU004</text>
<g transform="translate(71.9,1055) rotate(-90)"><text x="-210.15 -181.14 -154.56 -123.15 -101.4 -89.31 -77.23 -63.84 -40.95 -14.24 8.65" y="0" font-size="43.5" text-anchor="start">SFCs / 1×10<tspan font-size="32" dy="-19">6</tspan><tspan dy="19"> PBMCs</tspan></text>
<rect x="-61.66" y="-4.35" width="8.66" height="5.87" fill="#fff"/><rect x="-49" y="-4.35" width="8.27" height="5.87" fill="#fff"/><rect x="-12.07" y="-4.35" width="8.66" height="5.87" fill="#fff"/><rect x="0.59" y="-4.35" width="8.27" height="5.87" fill="#fff"/></g>
<polyline points="243.7,1255.59 369.7,1136.82 495.7,860.48 621.7,1095.61" fill="none" stroke="#6b9cd5" stroke-width="3.2" stroke-linejoin="round"/>
<polyline points="243.7,1291.95 369.7,1199.84 495.7,860.48 621.7,1151.36" fill="none" stroke="#6b9cd5" stroke-width="3.2" stroke-linejoin="round"/>
<polyline points="243.7,1272.56 369.7,1255.59 495.7,1112.58 621.7,1224.08" fill="none" stroke="#6b9cd5" stroke-width="3.2" stroke-linejoin="round"/>
<polyline points="243.7,1279.83 369.7,1272.56 495.7,1192.57 621.7,1199.84" fill="none" stroke="#6b9cd5" stroke-width="3.2" stroke-linejoin="round"/>
<polygon points="243.7,1245.59 253.7,1265.59 233.7,1265.59" fill="#6b9cd5"/>
<polygon points="369.7,1126.82 379.7,1146.82 359.7,1146.82" fill="#6b9cd5"/>
<polygon points="495.7,850.48 505.7,870.48 485.7,870.48" fill="#6b9cd5"/>
<polygon points="621.7,1085.61 631.7,1105.61 611.7,1105.61" fill="#6b9cd5"/>
<polygon points="243.7,1281.95 253.7,1301.95 233.7,1301.95" fill="#6b9cd5"/>
<polygon points="369.7,1189.84 379.7,1209.84 359.7,1209.84" fill="#6b9cd5"/>
<polygon points="495.7,850.48 505.7,870.48 485.7,870.48" fill="#6b9cd5"/>
<polygon points="621.7,1141.36 631.7,1161.36 611.7,1161.36" fill="#6b9cd5"/>
<polygon points="243.7,1262.56 253.7,1282.56 233.7,1282.56" fill="#6b9cd5"/>
<polygon points="369.7,1245.59 379.7,1265.59 359.7,1265.59" fill="#6b9cd5"/>
<polygon points="495.7,1102.58 505.7,1122.58 485.7,1122.58" fill="#6b9cd5"/>
<polygon points="621.7,1214.08 631.7,1234.08 611.7,1234.08" fill="#6b9cd5"/>
<polygon points="243.7,1269.83 253.7,1289.83 233.7,1289.83" fill="#6b9cd5"/>
<polygon points="369.7,1262.56 379.7,1282.56 359.7,1282.56" fill="#6b9cd5"/>
<polygon points="495.7,1182.57 505.7,1202.57 485.7,1202.57" fill="#6b9cd5"/>
<polygon points="621.7,1189.84 631.7,1209.84 611.7,1209.84" fill="#6b9cd5"/>
<line x1="844.8" y1="810.65" x2="844.8" y2="1298.15" stroke="#000" stroke-width="2.7" />
<line x1="825.3" y1="1296.8" x2="844.8" y2="1296.8" stroke="#000" stroke-width="2.7" />
<text x="820.8" y="1310" font-size="37" text-anchor="end" font-weight="normal" >0</text>
<line x1="825.3" y1="1175.6" x2="844.8" y2="1175.6" stroke="#000" stroke-width="2.7" />
<text x="820.8" y="1188.8" font-size="37" text-anchor="end" font-weight="normal" >200</text>
<line x1="825.3" y1="1054.4" x2="844.8" y2="1054.4" stroke="#000" stroke-width="2.7" />
<text x="820.8" y="1067.6" font-size="37" text-anchor="end" font-weight="normal" >400</text>
<line x1="825.3" y1="933.2" x2="844.8" y2="933.2" stroke="#000" stroke-width="2.7" />
<text x="820.8" y="946.4" font-size="37" text-anchor="end" font-weight="normal" >600</text>
<line x1="825.3" y1="812" x2="844.8" y2="812" stroke="#000" stroke-width="2.7" />
<text x="820.8" y="825.2" font-size="37" text-anchor="end" font-weight="normal" >800</text>
<line x1="843.45" y1="1296.8" x2="1348.8" y2="1296.8" stroke="#000" stroke-width="2.7" />
<line x1="907.8" y1="1296.8" x2="907.8" y2="1316.1" stroke="#000" stroke-width="2.7" />
<text x="908.3" y="1353.6" font-size="37" text-anchor="middle" font-weight="normal" >Pre</text>
<line x1="1033.8" y1="1296.8" x2="1033.8" y2="1316.1" stroke="#000" stroke-width="2.7" />
<text x="1034.3" y="1353.6" font-size="37" text-anchor="middle" font-weight="normal" >Prime</text>
<line x1="1159.8" y1="1296.8" x2="1159.8" y2="1316.1" stroke="#000" stroke-width="2.7" />
<text x="1160.3" y="1353.6" font-size="37" text-anchor="middle" font-weight="normal" >Boost</text>
<line x1="1285.8" y1="1296.8" x2="1285.8" y2="1316.1" stroke="#000" stroke-width="2.7" />
<text x="1286.3" y="1353.6" font-size="37" text-anchor="middle" font-weight="normal" >Post</text>
<text x="1018.07" y="787.6" font-size="48.6" text-anchor="start" font-weight="normal" >GU007</text>
<polyline points="907.8,1015.62 1033.8,913.81 1159.8,1067.13 1285.8,937.44" fill="none" stroke="#6b9cd5" stroke-width="3.2" stroke-linejoin="round"/>
<polyline points="907.8,1264.08 1033.8,1248.93 1159.8,1259.23 1285.8,1179.24" fill="none" stroke="#6b9cd5" stroke-width="3.2" stroke-linejoin="round"/>
<polyline points="907.8,1281.89 1033.8,1285.29 1159.8,1236.81 1285.8,1281.89" fill="none" stroke="#6b9cd5" stroke-width="3.2" stroke-linejoin="round"/>
<polyline points="907.8,1295.1 1033.8,1265.89 1159.8,1263.47 1285.8,1281.89" fill="none" stroke="#6b9cd5" stroke-width="3.2" stroke-linejoin="round"/>
<polyline points="907.8,1295.1 1033.8,1271.35 1159.8,1279.23 1285.8,1281.89" fill="none" stroke="#6b9cd5" stroke-width="3.2" stroke-linejoin="round"/>
<polygon points="898.3,1015.62 903.05,1007.45 912.55,1007.45 917.3,1015.62 912.55,1023.79 903.05,1023.79" fill="#6b9cd5"/>
<polygon points="1024.3,913.81 1029.05,905.64 1038.55,905.64 1043.3,913.81 1038.55,921.98 1029.05,921.98" fill="#6b9cd5"/>
<polygon points="1150.3,1067.13 1155.05,1058.96 1164.55,1058.96 1169.3,1067.13 1164.55,1075.3 1155.05,1075.3" fill="#6b9cd5"/>
<polygon points="1276.3,937.44 1281.05,929.27 1290.55,929.27 1295.3,937.44 1290.55,945.61 1281.05,945.61" fill="#6b9cd5"/>
<polygon points="898.3,1264.08 903.05,1255.91 912.55,1255.91 917.3,1264.08 912.55,1272.25 903.05,1272.25" fill="#6b9cd5"/>
<polygon points="1024.3,1248.93 1029.05,1240.76 1038.55,1240.76 1043.3,1248.93 1038.55,1257.1 1029.05,1257.1" fill="#6b9cd5"/>
<polygon points="1150.3,1259.23 1155.05,1251.06 1164.55,1251.06 1169.3,1259.23 1164.55,1267.4 1155.05,1267.4" fill="#6b9cd5"/>
<polygon points="1276.3,1179.24 1281.05,1171.07 1290.55,1171.07 1295.3,1179.24 1290.55,1187.41 1281.05,1187.41" fill="#6b9cd5"/>
<polygon points="898.3,1281.89 903.05,1273.72 912.55,1273.72 917.3,1281.89 912.55,1290.06 903.05,1290.06" fill="#6b9cd5"/>
<polygon points="1024.3,1285.29 1029.05,1277.12 1038.55,1277.12 1043.3,1285.29 1038.55,1293.46 1029.05,1293.46" fill="#6b9cd5"/>
<polygon points="1150.3,1236.81 1155.05,1228.64 1164.55,1228.64 1169.3,1236.81 1164.55,1244.98 1155.05,1244.98" fill="#6b9cd5"/>
<polygon points="1276.3,1281.89 1281.05,1273.72 1290.55,1273.72 1295.3,1281.89 1290.55,1290.06 1281.05,1290.06" fill="#6b9cd5"/>
<polygon points="898.3,1295.1 903.05,1286.93 912.55,1286.93 917.3,1295.1 912.55,1303.27 903.05,1303.27" fill="#6b9cd5"/>
<polygon points="1024.3,1265.89 1029.05,1257.72 1038.55,1257.72 1043.3,1265.89 1038.55,1274.06 1029.05,1274.06" fill="#6b9cd5"/>
<polygon points="1150.3,1263.47 1155.05,1255.3 1164.55,1255.3 1169.3,1263.47 1164.55,1271.64 1155.05,1271.64" fill="#6b9cd5"/>
<polygon points="1276.3,1281.89 1281.05,1273.72 1290.55,1273.72 1295.3,1281.89 1290.55,1290.06 1281.05,1290.06" fill="#6b9cd5"/>
<polygon points="898.3,1295.1 903.05,1286.93 912.55,1286.93 917.3,1295.1 912.55,1303.27 903.05,1303.27" fill="#6b9cd5"/>
<polygon points="1024.3,1271.35 1029.05,1263.18 1038.55,1263.18 1043.3,1271.35 1038.55,1279.52 1029.05,1279.52" fill="#6b9cd5"/>
<polygon points="1150.3,1279.23 1155.05,1271.06 1164.55,1271.06 1169.3,1279.23 1164.55,1287.4 1155.05,1287.4" fill="#6b9cd5"/>
<polygon points="1276.3,1281.89 1281.05,1273.72 1290.55,1273.72 1295.3,1281.89 1290.55,1290.06 1281.05,1290.06" fill="#6b9cd5"/>
<line x1="1521.3" y1="811.15" x2="1521.3" y2="1298.15" stroke="#000" stroke-width="2.7" />
<line x1="1501.8" y1="1296.8" x2="1521.3" y2="1296.8" stroke="#000" stroke-width="2.7" />
<text x="1497.3" y="1310" font-size="37" text-anchor="end" font-weight="normal" >0</text>
<line x1="1501.8" y1="1135.37" x2="1521.3" y2="1135.37" stroke="#000" stroke-width="2.7" />
<text x="1497.3" y="1148.57" font-size="37" text-anchor="end" font-weight="normal" >50</text>
<line x1="1501.8" y1="973.93" x2="1521.3" y2="973.93" stroke="#000" stroke-width="2.7" />
<text x="1436.68 1456.14 1476.72" y="987.13" font-size="37" text-anchor="start" >100</text>
<rect x="1438.53" y="983.43" width="7.36" height="5" fill="#fff"/><rect x="1449.29" y="983.43" width="7.03" height="5" fill="#fff"/>
<line x1="1501.8" y1="812.5" x2="1521.3" y2="812.5" stroke="#000" stroke-width="2.7" />
<text x="1436.68 1456.14 1476.72" y="825.7" font-size="37" text-anchor="start" >150</text>
<rect x="1438.53" y="822" width="7.36" height="5" fill="#fff"/><rect x="1449.29" y="822" width="7.03" height="5" fill="#fff"/>
<line x1="1519.95" y1="1296.8" x2="2025.3" y2="1296.8" stroke="#000" stroke-width="2.7" />
<line x1="1605.3" y1="1296.8" x2="1605.3" y2="1316.1" stroke="#000" stroke-width="2.7" />
<text x="1605.8" y="1353.6" font-size="37" text-anchor="middle" font-weight="normal" >Pre</text>
<line x1="1773.3" y1="1296.8" x2="1773.3" y2="1316.1" stroke="#000" stroke-width="2.7" />
<text x="1773.8" y="1353.6" font-size="37" text-anchor="middle" font-weight="normal" >Prime</text>
<line x1="1941.3" y1="1296.8" x2="1941.3" y2="1316.1" stroke="#000" stroke-width="2.7" />
<text x="1941.8" y="1353.6" font-size="37" text-anchor="middle" font-weight="normal" >Boost</text>
<text x="1700.07 1737.87 1772.97 1801.46 1828.49" y="787.6" font-size="48.6" text-anchor="start" >GU011</text>
<rect x="1803.89" y="782.74" width="9.67" height="6.56" fill="#fff"/><rect x="1818.03" y="782.74" width="9.23" height="6.56" fill="#fff"/><rect x="1830.92" y="782.74" width="9.67" height="6.56" fill="#fff"/><rect x="1845.06" y="782.74" width="9.23" height="6.56" fill="#fff"/>
<polyline points="1605.3,1249.02 1773.3,1199.94 1941.3,1135.37" fill="none" stroke="#6b9cd5" stroke-width="3.2" stroke-linejoin="round"/>
<polyline points="1605.3,1287.11 1773.3,1183.8 1941.3,1280.66" fill="none" stroke="#6b9cd5" stroke-width="3.2" stroke-linejoin="round"/>
<polyline points="1605.3,1287.11 1773.3,1218.34 1941.3,1167.65" fill="none" stroke="#6b9cd5" stroke-width="3.2" stroke-linejoin="round"/>
<polyline points="1605.3,1295.51 1773.3,1103.08 1941.3,1054.65" fill="none" stroke="#6b9cd5" stroke-width="3.2" stroke-linejoin="round"/>
<polyline points="1605.3,1287.11 1773.3,1112.77 1941.3,941.65" fill="none" stroke="#6b9cd5" stroke-width="3.2" stroke-linejoin="round"/>
<polyline points="1605.3,1280.01 1773.3,1120.51 1941.3,1199.94" fill="none" stroke="#6b9cd5" stroke-width="3.2" stroke-linejoin="round"/>
<path d="M1595.55,1239.27L1615.05,1258.77M1615.05,1239.27L1595.55,1258.77" stroke="#6b9cd5" stroke-width="4.68"/>
<path d="M1763.55,1190.19L1783.05,1209.69M1783.05,1190.19L1763.55,1209.69" stroke="#6b9cd5" stroke-width="4.68"/>
<path d="M1931.55,1125.62L1951.05,1145.12M1951.05,1125.62L1931.55,1145.12" stroke="#6b9cd5" stroke-width="4.68"/>
<path d="M1595.55,1277.36L1615.05,1296.86M1615.05,1277.36L1595.55,1296.86" stroke="#6b9cd5" stroke-width="4.68"/>
<path d="M1763.55,1174.05L1783.05,1193.55M1783.05,1174.05L1763.55,1193.55" stroke="#6b9cd5" stroke-width="4.68"/>
<path d="M1931.55,1270.91L1951.05,1290.41M1951.05,1270.91L1931.55,1290.41" stroke="#6b9cd5" stroke-width="4.68"/>
<path d="M1595.55,1277.36L1615.05,1296.86M1615.05,1277.36L1595.55,1296.86" stroke="#6b9cd5" stroke-width="4.68"/>
<path d="M1763.55,1208.59L1783.05,1228.09M1783.05,1208.59L1763.55,1228.09" stroke="#6b9cd5" stroke-width="4.68"/>
<path d="M1931.55,1157.9L1951.05,1177.4M1951.05,1157.9L1931.55,1177.4" stroke="#6b9cd5" stroke-width="4.68"/>
<path d="M1595.55,1285.76L1615.05,1305.26M1615.05,1285.76L1595.55,1305.26" stroke="#6b9cd5" stroke-width="4.68"/>
<path d="M1763.55,1093.33L1783.05,1112.83M1783.05,1093.33L1763.55,1112.83" stroke="#6b9cd5" stroke-width="4.68"/>
<path d="M1931.55,1044.9L1951.05,1064.4M1951.05,1044.9L1931.55,1064.4" stroke="#6b9cd5" stroke-width="4.68"/>
<path d="M1595.55,1277.36L1615.05,1296.86M1615.05,1277.36L1595.55,1296.86" stroke="#6b9cd5" stroke-width="4.68"/>
<path d="M1763.55,1103.02L1783.05,1122.52M1783.05,1103.02L1763.55,1122.52" stroke="#6b9cd5" stroke-width="4.68"/>
<path d="M1931.55,931.9L1951.05,951.4M1951.05,931.9L1931.55,951.4" stroke="#6b9cd5" stroke-width="4.68"/>
<path d="M1595.55,1270.26L1615.05,1289.76M1615.05,1270.26L1595.55,1289.76" stroke="#6b9cd5" stroke-width="4.68"/>
<path d="M1763.55,1110.76L1783.05,1130.26M1783.05,1110.76L1763.55,1130.26" stroke="#6b9cd5" stroke-width="4.68"/>
<path d="M1931.55,1190.19L1951.05,1209.69M1951.05,1190.19L1931.55,1209.69" stroke="#6b9cd5" stroke-width="4.68"/>
<line x1="180.7" y1="1488.65" x2="180.7" y2="1975.25" stroke="#000" stroke-width="2.7" />
<line x1="161.2" y1="1973.9" x2="180.7" y2="1973.9" stroke="#000" stroke-width="2.7" />
<text x="156.7" y="1987.1" font-size="37" text-anchor="end" font-weight="normal" >0</text>
<line x1="161.2" y1="1812.6" x2="180.7" y2="1812.6" stroke="#000" stroke-width="2.7" />
<text x="156.7" y="1825.8" font-size="37" text-anchor="end" font-weight="normal" >50</text>
<line x1="161.2" y1="1651.3" x2="180.7" y2="1651.3" stroke="#000" stroke-width="2.7" />
<text x="96.08 115.54 136.12" y="1664.5" font-size="37" text-anchor="start" >100</text>
<rect x="97.93" y="1660.8" width="7.36" height="5" fill="#fff"/><rect x="108.69" y="1660.8" width="7.03" height="5" fill="#fff"/>
<line x1="161.2" y1="1490" x2="180.7" y2="1490" stroke="#000" stroke-width="2.7" />
<text x="96.08 115.54 136.12" y="1503.2" font-size="37" text-anchor="start" >150</text>
<rect x="97.93" y="1499.5" width="7.36" height="5" fill="#fff"/><rect x="108.69" y="1499.5" width="7.03" height="5" fill="#fff"/>
<line x1="179.35" y1="1973.9" x2="684.7" y2="1973.9" stroke="#000" stroke-width="2.7" />
<line x1="264.7" y1="1973.9" x2="264.7" y2="1993.2" stroke="#000" stroke-width="2.7" />
<text x="265.2" y="2030.7" font-size="37" text-anchor="middle" font-weight="normal" >Pre</text>
<line x1="432.7" y1="1973.9" x2="432.7" y2="1993.2" stroke="#000" stroke-width="2.7" />
<text x="433.2" y="2030.7" font-size="37" text-anchor="middle" font-weight="normal" >Prime</text>
<line x1="600.7" y1="1973.9" x2="600.7" y2="1993.2" stroke="#000" stroke-width="2.7" />
<text x="601.2" y="2030.7" font-size="37" text-anchor="middle" font-weight="normal" >Boost</text>
<text x="355.87 393.67 428.77 455.8 484.29" y="1465.8" font-size="48.6" text-anchor="start" >GU001</text>
<rect x="486.72" y="1460.94" width="9.67" height="6.56" fill="#fff"/><rect x="500.86" y="1460.94" width="9.23" height="6.56" fill="#fff"/>
<g transform="translate(71.9,1732.55) rotate(-90)"><text x="-210.15 -181.14 -154.56 -123.15 -101.4 -89.31 -77.23 -63.84 -40.95 -14.24 8.65" y="0" font-size="43.5" text-anchor="start">SFCs / 1×10<tspan font-size="32" dy="-19">6</tspan><tspan dy="19"> PBMCs</tspan></text>
<rect x="-61.66" y="-4.35" width="8.66" height="5.87" fill="#fff"/><rect x="-49" y="-4.35" width="8.27" height="5.87" fill="#fff"/><rect x="-12.07" y="-4.35" width="8.66" height="5.87" fill="#fff"/><rect x="0.59" y="-4.35" width="8.27" height="5.87" fill="#fff"/></g>
<polyline points="264.7,1925.51 432.7,1619.04 600.7,1812.6" fill="none" stroke="#985cb0" stroke-width="3.2" stroke-linejoin="round"/>
<circle cx="264.7" cy="1925.51" r="9.5" fill="#985cb0"/>
<circle cx="432.7" cy="1619.04" r="9.5" fill="#985cb0"/>
<circle cx="600.7" cy="1812.6" r="9.5" fill="#985cb0"/>
<line x1="844.8" y1="1488.65" x2="844.8" y2="1975.25" stroke="#000" stroke-width="2.7" />
<line x1="825.3" y1="1973.9" x2="844.8" y2="1973.9" stroke="#000" stroke-width="2.7" />
<text x="820.8" y="1987.1" font-size="37" text-anchor="end" font-weight="normal" >0</text>
<line x1="825.3" y1="1852.92" x2="844.8" y2="1852.92" stroke="#000" stroke-width="2.7" />
<text x="820.8" y="1866.12" font-size="37" text-anchor="end" font-weight="normal" >50</text>
<line x1="825.3" y1="1731.95" x2="844.8" y2="1731.95" stroke="#000" stroke-width="2.7" />
<text x="760.18 779.64 800.22" y="1745.15" font-size="37" text-anchor="start" >100</text>
<rect x="762.03" y="1741.45" width="7.36" height="5" fill="#fff"/><rect x="772.79" y="1741.45" width="7.03" height="5" fill="#fff"/>
<line x1="825.3" y1="1610.97" x2="844.8" y2="1610.97" stroke="#000" stroke-width="2.7" />
<text x="760.18 779.64 800.22" y="1624.17" font-size="37" text-anchor="start" >150</text>
<rect x="762.03" y="1620.47" width="7.36" height="5" fill="#fff"/><rect x="772.79" y="1620.47" width="7.03" height="5" fill="#fff"/>
<line x1="825.3" y1="1490" x2="844.8" y2="1490" stroke="#000" stroke-width="2.7" />
<text x="820.8" y="1503.2" font-size="37" text-anchor="end" font-weight="normal" >200</text>
<line x1="843.45" y1="1973.9" x2="1348.8" y2="1973.9" stroke="#000" stroke-width="2.7" />
<line x1="907.8" y1="1973.9" x2="907.8" y2="1993.2" stroke="#000" stroke-width="2.7" />
<text x="908.3" y="2030.7" font-size="37" text-anchor="middle" font-weight="normal" >Pre</text>
<line x1="1033.8" y1="1973.9" x2="1033.8" y2="1993.2" stroke="#000" stroke-width="2.7" />
<text x="1034.3" y="2030.7" font-size="37" text-anchor="middle" font-weight="normal" >Prime</text>
<line x1="1159.8" y1="1973.9" x2="1159.8" y2="1993.2" stroke="#000" stroke-width="2.7" />
<text x="1160.3" y="2030.7" font-size="37" text-anchor="middle" font-weight="normal" >Boost</text>
<line x1="1285.8" y1="1973.9" x2="1285.8" y2="1993.2" stroke="#000" stroke-width="2.7" />
<text x="1286.3" y="2030.7" font-size="37" text-anchor="middle" font-weight="normal" >Post</text>
<text x="1018.07" y="1465.8" font-size="48.6" text-anchor="start" font-weight="normal" >GU002</text>
<polyline points="907.8,1937.61 1033.8,1731.95 1159.8,1610.97 1285.8,1538.39" fill="none" stroke="#985cb0" stroke-width="3.2" stroke-linejoin="round"/>
<polyline points="907.8,1940.03 1033.8,1865.02 1159.8,1816.63 1285.8,1804.54" fill="none" stroke="#985cb0" stroke-width="3.2" stroke-linejoin="round"/>
<polyline points="907.8,1961.8 1033.8,1852.92 1159.8,1731.95 1285.8,1828.73" fill="none" stroke="#985cb0" stroke-width="3.2" stroke-linejoin="round"/>
<polyline points="907.8,1947.29 1033.8,1901.32 1159.8,1865.02 1285.8,1961.8" fill="none" stroke="#985cb0" stroke-width="3.2" stroke-linejoin="round"/>
<polyline points="907.8,1949.71 1033.8,1925.51 1159.8,1877.12 1285.8,1889.22" fill="none" stroke="#985cb0" stroke-width="3.2" stroke-linejoin="round"/>
<rect x="898.05" y="1927.86" width="19.5" height="19.5" fill="#985cb0"/>
<rect x="1024.05" y="1722.2" width="19.5" height="19.5" fill="#985cb0"/>
<rect x="1150.05" y="1601.22" width="19.5" height="19.5" fill="#985cb0"/>
<rect x="1276.05" y="1528.64" width="19.5" height="19.5" fill="#985cb0"/>
<rect x="898.05" y="1930.28" width="19.5" height="19.5" fill="#985cb0"/>
<rect x="1024.05" y="1855.27" width="19.5" height="19.5" fill="#985cb0"/>
<rect x="1150.05" y="1806.88" width="19.5" height="19.5" fill="#985cb0"/>
<rect x="1276.05" y="1794.79" width="19.5" height="19.5" fill="#985cb0"/>
<rect x="898.05" y="1952.05" width="19.5" height="19.5" fill="#985cb0"/>
<rect x="1024.05" y="1843.17" width="19.5" height="19.5" fill="#985cb0"/>
<rect x="1150.05" y="1722.2" width="19.5" height="19.5" fill="#985cb0"/>
<rect x="1276.05" y="1818.98" width="19.5" height="19.5" fill="#985cb0"/>
<rect x="898.05" y="1937.54" width="19.5" height="19.5" fill="#985cb0"/>
<rect x="1024.05" y="1891.57" width="19.5" height="19.5" fill="#985cb0"/>
<rect x="1150.05" y="1855.27" width="19.5" height="19.5" fill="#985cb0"/>
<rect x="1276.05" y="1952.05" width="19.5" height="19.5" fill="#985cb0"/>
<rect x="898.05" y="1939.96" width="19.5" height="19.5" fill="#985cb0"/>
<rect x="1024.05" y="1915.76" width="19.5" height="19.5" fill="#985cb0"/>
<rect x="1150.05" y="1867.37" width="19.5" height="19.5" fill="#985cb0"/>
<rect x="1276.05" y="1879.47" width="19.5" height="19.5" fill="#985cb0"/>
<line x1="1521.3" y1="1488.15" x2="1521.3" y2="1975.55" stroke="#000" stroke-width="2.7" />
<line x1="1501.8" y1="1974.2" x2="1521.3" y2="1974.2" stroke="#000" stroke-width="2.7" />
<text x="1497.3" y="1987.4" font-size="37" text-anchor="end" font-weight="normal" >0</text>
<line x1="1501.8" y1="1877.26" x2="1521.3" y2="1877.26" stroke="#000" stroke-width="2.7" />
<text x="1497.3" y="1890.46" font-size="37" text-anchor="end" font-weight="normal" >20</text>
<line x1="1501.8" y1="1780.32" x2="1521.3" y2="1780.32" stroke="#000" stroke-width="2.7" />
<text x="1497.3" y="1793.52" font-size="37" text-anchor="end" font-weight="normal" >40</text>
<line x1="1501.8" y1="1683.38" x2="1521.3" y2="1683.38" stroke="#000" stroke-width="2.7" />
<text x="1497.3" y="1696.58" font-size="37" text-anchor="end" font-weight="normal" >60</text>
<line x1="1501.8" y1="1586.44" x2="1521.3" y2="1586.44" stroke="#000" stroke-width="2.7" />
<text x="1497.3" y="1599.64" font-size="37" text-anchor="end" font-weight="normal" >80</text>
<line x1="1501.8" y1="1489.5" x2="1521.3" y2="1489.5" stroke="#000" stroke-width="2.7" />
<text x="1436.68 1456.14 1476.72" y="1502.7" font-size="37" text-anchor="start" >100</text>
<rect x="1438.53" y="1499" width="7.36" height="5" fill="#fff"/><rect x="1449.29" y="1499" width="7.03" height="5" fill="#fff"/>
<line x1="1519.95" y1="1974.2" x2="2025.3" y2="1974.2" stroke="#000" stroke-width="2.7" />
<line x1="1584.3" y1="1974.2" x2="1584.3" y2="1993.5" stroke="#000" stroke-width="2.7" />
<text x="1584.8" y="2031" font-size="37" text-anchor="middle" font-weight="normal" >Pre</text>
<line x1="1710.3" y1="1974.2" x2="1710.3" y2="1993.5" stroke="#000" stroke-width="2.7" />
<text x="1710.8" y="2031" font-size="37" text-anchor="middle" font-weight="normal" >Prime</text>
<line x1="1836.3" y1="1974.2" x2="1836.3" y2="1993.5" stroke="#000" stroke-width="2.7" />
<text x="1836.8" y="2031" font-size="37" text-anchor="middle" font-weight="normal" >Boost</text>
<line x1="1962.3" y1="1974.2" x2="1962.3" y2="1993.5" stroke="#000" stroke-width="2.7" />
<text x="1962.8" y="2031" font-size="37" text-anchor="middle" font-weight="normal" >Post</text>
<text x="1700.17" y="1465.8" font-size="48.6" text-anchor="start" font-weight="normal" >GU005</text>
<polyline points="1584.3,1843.33 1710.3,1778.38 1836.3,1520.52 1962.3,1811.34" fill="none" stroke="#985cb0" stroke-width="3.2" stroke-linejoin="round"/>
<polyline points="1584.3,1938.33 1710.3,1842.85 1836.3,1729.43 1962.3,1858.36" fill="none" stroke="#985cb0" stroke-width="3.2" stroke-linejoin="round"/>
<polygon points="1574.55,1833.58 1594.05,1833.58 1584.3,1853.08" fill="#985cb0"/>
<polygon points="1700.55,1768.63 1720.05,1768.63 1710.3,1788.13" fill="#985cb0"/>
<polygon points="1826.55,1510.77 1846.05,1510.77 1836.3,1530.27" fill="#985cb0"/>
<polygon points="1952.55,1801.59 1972.05,1801.59 1962.3,1821.09" fill="#985cb0"/>
<polygon points="1574.55,1928.58 1594.05,1928.58 1584.3,1948.08" fill="#985cb0"/>
<polygon points="1700.55,1833.1 1720.05,1833.1 1710.3,1852.6" fill="#985cb0"/>
<polygon points="1826.55,1719.68 1846.05,1719.68 1836.3,1739.18" fill="#985cb0"/>
<polygon points="1952.55,1848.61 1972.05,1848.61 1962.3,1868.11" fill="#985cb0"/>
<line x1="180.7" y1="2161.25" x2="180.7" y2="2648.15" stroke="#000" stroke-width="2.7" />
<line x1="161.2" y1="2646.8" x2="180.7" y2="2646.8" stroke="#000" stroke-width="2.7" />
<text x="156.7" y="2660" font-size="37" text-anchor="end" font-weight="normal" >0</text>
<line x1="161.2" y1="2525.75" x2="180.7" y2="2525.75" stroke="#000" stroke-width="2.7" />
<text x="96.08 115.54 136.12" y="2538.95" font-size="37" text-anchor="start" >100</text>
<rect x="97.93" y="2535.25" width="7.36" height="5" fill="#fff"/><rect x="108.69" y="2535.25" width="7.03" height="5" fill="#fff"/>
<line x1="161.2" y1="2404.7" x2="180.7" y2="2404.7" stroke="#000" stroke-width="2.7" />
<text x="156.7" y="2417.9" font-size="37" text-anchor="end" font-weight="normal" >200</text>
<line x1="161.2" y1="2283.65" x2="180.7" y2="2283.65" stroke="#000" stroke-width="2.7" />
<text x="156.7" y="2296.85" font-size="37" text-anchor="end" font-weight="normal" >300</text>
<line x1="161.2" y1="2162.6" x2="180.7" y2="2162.6" stroke="#000" stroke-width="2.7" />
<text x="156.7" y="2175.8" font-size="37" text-anchor="end" font-weight="normal" >400</text>
<line x1="179.35" y1="2646.8" x2="684.7" y2="2646.8" stroke="#000" stroke-width="2.7" />
<line x1="264.7" y1="2646.8" x2="264.7" y2="2666.1" stroke="#000" stroke-width="2.7" />
<text x="265.2" y="2703.6" font-size="37" text-anchor="middle" font-weight="normal" >Pre</text>
<line x1="432.7" y1="2646.8" x2="432.7" y2="2666.1" stroke="#000" stroke-width="2.7" />
<text x="433.2" y="2703.6" font-size="37" text-anchor="middle" font-weight="normal" >Prime</text>
<line x1="600.7" y1="2646.8" x2="600.7" y2="2666.1" stroke="#000" stroke-width="2.7" />
<text x="601.2" y="2703.6" font-size="37" text-anchor="middle" font-weight="normal" >Boost</text>
<text x="355.87" y="2135.8" font-size="48.6" text-anchor="start" font-weight="normal" >GU006</text>
<g transform="translate(71.9,2405.3) rotate(-90)"><text x="-210.15 -181.14 -154.56 -123.15 -101.4 -89.31 -77.23 -63.84 -40.95 -14.24 8.65" y="0" font-size="43.5" text-anchor="start">SFCs / 1×10<tspan font-size="32" dy="-19">6</tspan><tspan dy="19"> PBMCs</tspan></text>
<rect x="-61.66" y="-4.35" width="8.66" height="5.87" fill="#fff"/><rect x="-49" y="-4.35" width="8.27" height="5.87" fill="#fff"/><rect x="-12.07" y="-4.35" width="8.66" height="5.87" fill="#fff"/><rect x="0.59" y="-4.35" width="8.27" height="5.87" fill="#fff"/></g>
<polyline points="264.7,2610.49 432.7,2283.65 600.7,2471.28" fill="none" stroke="#985cb0" stroke-width="3.2" stroke-linejoin="round"/>
<polyline points="264.7,2612.91 432.7,2386.54 600.7,2477.33" fill="none" stroke="#985cb0" stroke-width="3.2" stroke-linejoin="round"/>
<polyline points="264.7,2610.49 432.7,2410.75 600.7,2428.91" fill="none" stroke="#985cb0" stroke-width="3.2" stroke-linejoin="round"/>
<polyline points="264.7,2617.75 432.7,2428.91 600.7,2501.54" fill="none" stroke="#985cb0" stroke-width="3.2" stroke-linejoin="round"/>
<polyline points="264.7,2610.49 432.7,2507.59 600.7,2556.01" fill="none" stroke="#985cb0" stroke-width="3.2" stroke-linejoin="round"/>
<polyline points="264.7,2641.47 432.7,2519.7 600.7,2501.54" fill="none" stroke="#985cb0" stroke-width="3.2" stroke-linejoin="round"/>
<polyline points="264.7,2629.25 432.7,2556.01 600.7,2471.28" fill="none" stroke="#985cb0" stroke-width="3.2" stroke-linejoin="round"/>
<polygon points="264.7,2600.99 274.2,2610.49 264.7,2619.99 255.2,2610.49" fill="#985cb0"/>
<polygon points="432.7,2274.15 442.2,2283.65 432.7,2293.15 423.2,2283.65" fill="#985cb0"/>
<polygon points="600.7,2461.78 610.2,2471.28 600.7,2480.78 591.2,2471.28" fill="#985cb0"/>
<polygon points="264.7,2603.41 274.2,2612.91 264.7,2622.41 255.2,2612.91" fill="#985cb0"/>
<polygon points="432.7,2377.04 442.2,2386.54 432.7,2396.04 423.2,2386.54" fill="#985cb0"/>
<polygon points="600.7,2467.83 610.2,2477.33 600.7,2486.83 591.2,2477.33" fill="#985cb0"/>
<polygon points="264.7,2600.99 274.2,2610.49 264.7,2619.99 255.2,2610.49" fill="#985cb0"/>
<polygon points="432.7,2401.25 442.2,2410.75 432.7,2420.25 423.2,2410.75" fill="#985cb0"/>
<polygon points="600.7,2419.41 610.2,2428.91 600.7,2438.41 591.2,2428.91" fill="#985cb0"/>
<polygon points="264.7,2608.25 274.2,2617.75 264.7,2627.25 255.2,2617.75" fill="#985cb0"/>
<polygon points="432.7,2419.41 442.2,2428.91 432.7,2438.41 423.2,2428.91" fill="#985cb0"/>
<polygon points="600.7,2492.04 610.2,2501.54 600.7,2511.04 591.2,2501.54" fill="#985cb0"/>
<polygon points="264.7,2600.99 274.2,2610.49 264.7,2619.99 255.2,2610.49" fill="#985cb0"/>
<polygon points="432.7,2498.09 442.2,2507.59 432.7,2517.09 423.2,2507.59" fill="#985cb0"/>
<polygon points="600.7,2546.51 610.2,2556.01 600.7,2565.51 591.2,2556.01" fill="#985cb0"/>
<polygon points="264.7,2631.97 274.2,2641.47 264.7,2650.97 255.2,2641.47" fill="#985cb0"/>
<polygon points="432.7,2510.2 442.2,2519.7 432.7,2529.2 423.2,2519.7" fill="#985cb0"/>
<polygon points="600.7,2492.04 610.2,2501.54 600.7,2511.04 591.2,2501.54" fill="#985cb0"/>
<polygon points="264.7,2619.75 274.2,2629.25 264.7,2638.75 255.2,2629.25" fill="#985cb0"/>
<polygon points="432.7,2546.51 442.2,2556.01 432.7,2565.51 423.2,2556.01" fill="#985cb0"/>
<polygon points="600.7,2461.78 610.2,2471.28 600.7,2480.78 591.2,2471.28" fill="#985cb0"/>
<line x1="844.8" y1="2161.25" x2="844.8" y2="2648.15" stroke="#000" stroke-width="2.7" />
<line x1="825.3" y1="2646.8" x2="844.8" y2="2646.8" stroke="#000" stroke-width="2.7" />
<text x="820.8" y="2660" font-size="37" text-anchor="end" font-weight="normal" >0</text>
<line x1="825.3" y1="2525.75" x2="844.8" y2="2525.75" stroke="#000" stroke-width="2.7" />
<text x="760.18 779.64 800.22" y="2538.95" font-size="37" text-anchor="start" >100</text>
<rect x="762.03" y="2535.25" width="7.36" height="5" fill="#fff"/><rect x="772.79" y="2535.25" width="7.03" height="5" fill="#fff"/>
<line x1="825.3" y1="2404.7" x2="844.8" y2="2404.7" stroke="#000" stroke-width="2.7" />
<text x="820.8" y="2417.9" font-size="37" text-anchor="end" font-weight="normal" >200</text>
<line x1="825.3" y1="2283.65" x2="844.8" y2="2283.65" stroke="#000" stroke-width="2.7" />
<text x="820.8" y="2296.85" font-size="37" text-anchor="end" font-weight="normal" >300</text>
<line x1="825.3" y1="2162.6" x2="844.8" y2="2162.6" stroke="#000" stroke-width="2.7" />
<text x="820.8" y="2175.8" font-size="37" text-anchor="end" font-weight="normal" >400</text>
<line x1="843.45" y1="2646.8" x2="1348.8" y2="2646.8" stroke="#000" stroke-width="2.7" />
<line x1="928.8" y1="2646.8" x2="928.8" y2="2666.1" stroke="#000" stroke-width="2.7" />
<text x="929.3" y="2703.6" font-size="37" text-anchor="middle" font-weight="normal" >Pre</text>
<line x1="1096.8" y1="2646.8" x2="1096.8" y2="2666.1" stroke="#000" stroke-width="2.7" />
<text x="1097.3" y="2703.6" font-size="37" text-anchor="middle" font-weight="normal" >Prime</text>
<line x1="1264.8" y1="2646.8" x2="1264.8" y2="2666.1" stroke="#000" stroke-width="2.7" />
<text x="1265.3" y="2703.6" font-size="37" text-anchor="middle" font-weight="normal" >Post</text>
<text x="1017.77 1055.57 1090.67 1119.16 1144.73" y="2135.8" font-size="48.6" text-anchor="start" >GU010</text>
<rect x="1121.59" y="2130.94" width="9.67" height="6.56" fill="#fff"/><rect x="1135.73" y="2130.94" width="9.23" height="6.56" fill="#fff"/>
<polyline points="928.8,2477.33 1096.8,2580.22 1264.8,2313.91" fill="none" stroke="#985cb0" stroke-width="3.2" stroke-linejoin="round"/>
<polyline points="928.8,2592.33 1096.8,2604.43 1264.8,2338.12" fill="none" stroke="#985cb0" stroke-width="3.2" stroke-linejoin="round"/>
<polyline points="928.8,2610.49 1096.8,2586.28 1264.8,2453.12" fill="none" stroke="#985cb0" stroke-width="3.2" stroke-linejoin="round"/>
<polyline points="928.8,2617.75 1096.8,2622.59 1264.8,2465.22" fill="none" stroke="#985cb0" stroke-width="3.2" stroke-linejoin="round"/>
<polyline points="928.8,2634.7 1096.8,2543.91 1264.8,2289.7" fill="none" stroke="#985cb0" stroke-width="3.2" stroke-linejoin="round"/>
<polyline points="928.8,2641.96 1096.8,2568.12 1264.8,2519.7" fill="none" stroke="#985cb0" stroke-width="3.2" stroke-linejoin="round"/>
<polygon points="928.8,2467.93 931.12,2474.14 937.74,2474.43 932.55,2478.55 934.33,2484.93 928.8,2481.28 923.27,2484.93 925.05,2478.55 919.86,2474.43 926.48,2474.14" fill="#985cb0"/>
<polygon points="1096.8,2570.82 1099.12,2577.03 1105.74,2577.32 1100.55,2581.44 1102.33,2587.83 1096.8,2584.17 1091.27,2587.83 1093.05,2581.44 1087.86,2577.32 1094.48,2577.03" fill="#985cb0"/>
<polygon points="1264.8,2304.51 1267.12,2310.72 1273.74,2311.01 1268.55,2315.13 1270.33,2321.52 1264.8,2317.86 1259.27,2321.52 1261.05,2315.13 1255.86,2311.01 1262.48,2310.72" fill="#985cb0"/>
<polygon points="928.8,2582.93 931.12,2589.13 937.74,2589.42 932.55,2593.55 934.33,2599.93 928.8,2596.28 923.27,2599.93 925.05,2593.55 919.86,2589.42 926.48,2589.13" fill="#985cb0"/>
<polygon points="1096.8,2595.03 1099.12,2601.24 1105.74,2601.53 1100.55,2605.65 1102.33,2612.04 1096.8,2608.38 1091.27,2612.04 1093.05,2605.65 1087.86,2601.53 1094.48,2601.24" fill="#985cb0"/>
<polygon points="1264.8,2328.72 1267.12,2334.93 1273.74,2335.22 1268.55,2339.34 1270.33,2345.73 1264.8,2342.07 1259.27,2345.73 1261.05,2339.34 1255.86,2335.22 1262.48,2334.93" fill="#985cb0"/>
<polygon points="928.8,2601.09 931.12,2607.29 937.74,2607.58 932.55,2611.7 934.33,2618.09 928.8,2614.43 923.27,2618.09 925.05,2611.7 919.86,2607.58 926.48,2607.29" fill="#985cb0"/>
<polygon points="1096.8,2576.88 1099.12,2583.08 1105.74,2583.37 1100.55,2587.49 1102.33,2593.88 1096.8,2590.22 1091.27,2593.88 1093.05,2587.49 1087.86,2583.37 1094.48,2583.08" fill="#985cb0"/>
<polygon points="1264.8,2443.72 1267.12,2449.93 1273.74,2450.22 1268.55,2454.34 1270.33,2460.72 1264.8,2457.07 1259.27,2460.72 1261.05,2454.34 1255.86,2450.22 1262.48,2449.93" fill="#985cb0"/>
<polygon points="928.8,2608.35 931.12,2614.55 937.74,2614.84 932.55,2618.97 934.33,2625.35 928.8,2621.7 923.27,2625.35 925.05,2618.97 919.86,2614.84 926.48,2614.55" fill="#985cb0"/>
<polygon points="1096.8,2613.19 1099.12,2619.4 1105.74,2619.69 1100.55,2623.81 1102.33,2630.19 1096.8,2626.54 1091.27,2630.19 1093.05,2623.81 1087.86,2619.69 1094.48,2619.4" fill="#985cb0"/>
<polygon points="1264.8,2455.82 1267.12,2462.03 1273.74,2462.32 1268.55,2466.44 1270.33,2472.83 1264.8,2469.17 1259.27,2472.83 1261.05,2466.44 1255.86,2462.32 1262.48,2462.03" fill="#985cb0"/>
<polygon points="928.8,2625.3 931.12,2631.5 937.74,2631.79 932.55,2635.91 934.33,2642.3 928.8,2638.64 923.27,2642.3 925.05,2635.91 919.86,2631.79 926.48,2631.5" fill="#985cb0"/>
<polygon points="1096.8,2534.51 1099.12,2540.71 1105.74,2541 1100.55,2545.13 1102.33,2551.51 1096.8,2547.86 1091.27,2551.51 1093.05,2545.13 1087.86,2541 1094.48,2540.71" fill="#985cb0"/>
<polygon points="1264.8,2280.3 1267.12,2286.51 1273.74,2286.8 1268.55,2290.92 1270.33,2297.31 1264.8,2293.65 1259.27,2297.31 1261.05,2290.92 1255.86,2286.8 1262.48,2286.51" fill="#985cb0"/>
<polygon points="928.8,2632.56 931.12,2638.76 937.74,2639.05 932.55,2643.18 934.33,2649.56 928.8,2645.91 923.27,2649.56 925.05,2643.18 919.86,2639.05 926.48,2638.76" fill="#985cb0"/>
<polygon points="1096.8,2558.72 1099.12,2564.92 1105.74,2565.21 1100.55,2569.34 1102.33,2575.72 1096.8,2572.07 1091.27,2575.72 1093.05,2569.34 1087.86,2565.21 1094.48,2564.92" fill="#985cb0"/>
<polygon points="1264.8,2510.3 1267.12,2516.5 1273.74,2516.79 1268.55,2520.92 1270.33,2527.3 1264.8,2523.65 1259.27,2527.3 1261.05,2520.92 1255.86,2516.79 1262.48,2516.5" fill="#985cb0"/>
<line x1="1521.3" y1="2161.25" x2="1521.3" y2="2647.85" stroke="#000" stroke-width="2.7" />
<line x1="1501.8" y1="2646.5" x2="1521.3" y2="2646.5" stroke="#000" stroke-width="2.7" />
<text x="1497.3" y="2659.7" font-size="37" text-anchor="end" font-weight="normal" >0</text>
<line x1="1501.8" y1="2525.53" x2="1521.3" y2="2525.53" stroke="#000" stroke-width="2.7" />
<text x="1497.3" y="2538.72" font-size="37" text-anchor="end" font-weight="normal" >500</text>
<line x1="1501.8" y1="2404.55" x2="1521.3" y2="2404.55" stroke="#000" stroke-width="2.7" />
<text x="1416.1 1435.57 1456.14 1476.72" y="2417.75" font-size="37" text-anchor="start" >1000</text>
<rect x="1417.95" y="2414.05" width="7.36" height="5" fill="#fff"/><rect x="1428.72" y="2414.05" width="7.03" height="5" fill="#fff"/>
<line x1="1501.8" y1="2283.57" x2="1521.3" y2="2283.57" stroke="#000" stroke-width="2.7" />
<text x="1416.1 1435.57 1456.14 1476.72" y="2296.77" font-size="37" text-anchor="start" >1500</text>
<rect x="1417.95" y="2293.07" width="7.36" height="5" fill="#fff"/><rect x="1428.72" y="2293.07" width="7.03" height="5" fill="#fff"/>
<line x1="1501.8" y1="2162.6" x2="1521.3" y2="2162.6" stroke="#000" stroke-width="2.7" />
<text x="1497.3" y="2175.8" font-size="37" text-anchor="end" font-weight="normal" >2000</text>
<line x1="1519.95" y1="2646.5" x2="2025.3" y2="2646.5" stroke="#000" stroke-width="2.7" />
<line x1="1605.3" y1="2646.5" x2="1605.3" y2="2665.8" stroke="#000" stroke-width="2.7" />
<text x="1605.8" y="2703.3" font-size="37" text-anchor="middle" font-weight="normal" >Pre</text>
<line x1="1773.3" y1="2646.5" x2="1773.3" y2="2665.8" stroke="#000" stroke-width="2.7" />
<text x="1773.8" y="2703.3" font-size="37" text-anchor="middle" font-weight="normal" >Prime</text>
<line x1="1941.3" y1="2646.5" x2="1941.3" y2="2665.8" stroke="#000" stroke-width="2.7" />
<text x="1941.8" y="2703.3" font-size="37" text-anchor="middle" font-weight="normal" >Boost</text>
<text x="1700.17 1737.97 1773.07 1801.56 1827.13" y="2135.8" font-size="48.6" text-anchor="start" >GU012</text>
<rect x="1803.99" y="2130.94" width="9.67" height="6.56" fill="#fff"/><rect x="1818.13" y="2130.94" width="9.23" height="6.56" fill="#fff"/>
<polyline points="1605.3,2633.19 1773.3,2539.32 1941.3,2259.38" fill="none" stroke="#985cb0" stroke-width="3.2" stroke-linejoin="round"/>
<polyline points="1605.3,2646.5 1773.3,2545.12 1941.3,2358.58" fill="none" stroke="#985cb0" stroke-width="3.2" stroke-linejoin="round"/>
<polyline points="1605.3,2646.5 1773.3,2581.17 1941.3,2477.13" fill="none" stroke="#985cb0" stroke-width="3.2" stroke-linejoin="round"/>
<polyline points="1605.3,2646.5 1773.3,2634.4 1941.3,2568.11" fill="none" stroke="#985cb0" stroke-width="3.2" stroke-linejoin="round"/>
<polyline points="1605.3,2646.5 1773.3,2636.82 1941.3,2580.69" fill="none" stroke="#985cb0" stroke-width="3.2" stroke-linejoin="round"/>
<polyline points="1605.3,2646.5 1773.3,2639.24 1941.3,2592.79" fill="none" stroke="#985cb0" stroke-width="3.2" stroke-linejoin="round"/>
<polyline points="1605.3,2646.5 1773.3,2641.66 1941.3,2600.05" fill="none" stroke="#985cb0" stroke-width="3.2" stroke-linejoin="round"/>
<polyline points="1605.3,2646.5 1773.3,2643.6 1941.3,2607.79" fill="none" stroke="#985cb0" stroke-width="3.2" stroke-linejoin="round"/>
<polyline points="1605.3,2646.5 1773.3,2645.29 1941.3,2625.45" fill="none" stroke="#985cb0" stroke-width="3.2" stroke-linejoin="round"/>
<polyline points="1605.3,2646.5 1773.3,2646.5 1941.3,2636.34" fill="none" stroke="#985cb0" stroke-width="3.2" stroke-linejoin="round"/>
<path d="M1595.55,2633.19L1615.05,2633.19M1605.3,2623.44L1605.3,2642.94" stroke="#985cb0" stroke-width="5.07"/>
<path d="M1763.55,2539.32L1783.05,2539.32M1773.3,2529.57L1773.3,2549.07" stroke="#985cb0" stroke-width="5.07"/>
<path d="M1931.55,2259.38L1951.05,2259.38M1941.3,2249.63L1941.3,2269.13" stroke="#985cb0" stroke-width="5.07"/>
<path d="M1595.55,2646.5L1615.05,2646.5M1605.3,2636.75L1605.3,2656.25" stroke="#985cb0" stroke-width="5.07"/>
<path d="M1763.55,2545.12L1783.05,2545.12M1773.3,2535.37L1773.3,2554.87" stroke="#985cb0" stroke-width="5.07"/>
<path d="M1931.55,2358.58L1951.05,2358.58M1941.3,2348.83L1941.3,2368.33" stroke="#985cb0" stroke-width="5.07"/>
<path d="M1595.55,2646.5L1615.05,2646.5M1605.3,2636.75L1605.3,2656.25" stroke="#985cb0" stroke-width="5.07"/>
<path d="M1763.55,2581.17L1783.05,2581.17M1773.3,2571.42L1773.3,2590.92" stroke="#985cb0" stroke-width="5.07"/>
<path d="M1931.55,2477.13L1951.05,2477.13M1941.3,2467.38L1941.3,2486.88" stroke="#985cb0" stroke-width="5.07"/>
<path d="M1595.55,2646.5L1615.05,2646.5M1605.3,2636.75L1605.3,2656.25" stroke="#985cb0" stroke-width="5.07"/>
<path d="M1763.55,2634.4L1783.05,2634.4M1773.3,2624.65L1773.3,2644.15" stroke="#985cb0" stroke-width="5.07"/>
<path d="M1931.55,2568.11L1951.05,2568.11M1941.3,2558.36L1941.3,2577.86" stroke="#985cb0" stroke-width="5.07"/>
<path d="M1595.55,2646.5L1615.05,2646.5M1605.3,2636.75L1605.3,2656.25" stroke="#985cb0" stroke-width="5.07"/>
<path d="M1763.55,2636.82L1783.05,2636.82M1773.3,2627.07L1773.3,2646.57" stroke="#985cb0" stroke-width="5.07"/>
<path d="M1931.55,2580.69L1951.05,2580.69M1941.3,2570.94L1941.3,2590.44" stroke="#985cb0" stroke-width="5.07"/>
<path d="M1595.55,2646.5L1615.05,2646.5M1605.3,2636.75L1605.3,2656.25" stroke="#985cb0" stroke-width="5.07"/>
<path d="M1763.55,2639.24L1783.05,2639.24M1773.3,2629.49L1773.3,2648.99" stroke="#985cb0" stroke-width="5.07"/>
<path d="M1931.55,2592.79L1951.05,2592.79M1941.3,2583.04L1941.3,2602.54" stroke="#985cb0" stroke-width="5.07"/>
<path d="M1595.55,2646.5L1615.05,2646.5M1605.3,2636.75L1605.3,2656.25" stroke="#985cb0" stroke-width="5.07"/>
<path d="M1763.55,2641.66L1783.05,2641.66M1773.3,2631.91L1773.3,2651.41" stroke="#985cb0" stroke-width="5.07"/>
<path d="M1931.55,2600.05L1951.05,2600.05M1941.3,2590.3L1941.3,2609.8" stroke="#985cb0" stroke-width="5.07"/>
<path d="M1595.55,2646.5L1615.05,2646.5M1605.3,2636.75L1605.3,2656.25" stroke="#985cb0" stroke-width="5.07"/>
<path d="M1763.55,2643.6L1783.05,2643.6M1773.3,2633.85L1773.3,2653.35" stroke="#985cb0" stroke-width="5.07"/>
<path d="M1931.55,2607.79L1951.05,2607.79M1941.3,2598.04L1941.3,2617.54" stroke="#985cb0" stroke-width="5.07"/>
<path d="M1595.55,2646.5L1615.05,2646.5M1605.3,2636.75L1605.3,2656.25" stroke="#985cb0" stroke-width="5.07"/>
<path d="M1763.55,2645.29L1783.05,2645.29M1773.3,2635.54L1773.3,2655.04" stroke="#985cb0" stroke-width="5.07"/>
<path d="M1931.55,2625.45L1951.05,2625.45M1941.3,2615.7L1941.3,2635.2" stroke="#985cb0" stroke-width="5.07"/>
<path d="M1595.55,2646.5L1615.05,2646.5M1605.3,2636.75L1605.3,2656.25" stroke="#985cb0" stroke-width="5.07"/>
<path d="M1763.55,2646.5L1783.05,2646.5M1773.3,2636.75L1773.3,2656.25" stroke="#985cb0" stroke-width="5.07"/>
<path d="M1931.55,2636.34L1951.05,2636.34M1941.3,2626.59L1941.3,2646.09" stroke="#985cb0" stroke-width="5.07"/>
</svg>
</body></html>
